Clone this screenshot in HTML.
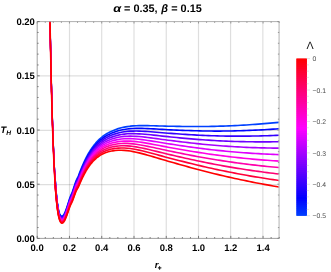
<!DOCTYPE html>
<html><head><meta charset="utf-8"><title>plot</title>
<style>html,body{margin:0;padding:0;background:#fff;}svg{display:block;}text{font-family:"Liberation Sans",sans-serif;}</style></head><body>
<svg width="331" height="272" viewBox="0 0 331 272">
<rect width="331" height="272" fill="#fff"/>
<defs><clipPath id="c"><rect x="37.2" y="21.6" width="242.0" height="216.8"/></clipPath>
<linearGradient id="g" x1="0" y1="0" x2="0" y2="1"><stop offset="0.00" stop-color="#ff0000"/><stop offset="0.10" stop-color="#ff0039"/><stop offset="0.20" stop-color="#ff0073"/><stop offset="0.30" stop-color="#ff00ac"/><stop offset="0.40" stop-color="#ff00e6"/><stop offset="0.50" stop-color="#df00ff"/><stop offset="0.60" stop-color="#a600ff"/><stop offset="0.70" stop-color="#6c00ff"/><stop offset="0.80" stop-color="#3300ff"/><stop offset="0.90" stop-color="#0006ff"/><stop offset="1.00" stop-color="#0040ff"/></linearGradient></defs>
<path d="M69.50,21.6 V238.4 M101.70,21.6 V238.4 M134.00,21.6 V238.4 M166.25,21.6 V238.4 M198.50,21.6 V238.4 M230.55,21.6 V238.4 M262.85,21.6 V238.4" stroke="#000" stroke-opacity="0.13" stroke-width="1.2" fill="none"/>
<path d="M37.2,184.60 H279.2 M37.2,130.40 H279.2 M37.2,75.80 H279.2" stroke="#000" stroke-opacity="0.13" stroke-width="1.2" fill="none"/>
<g clip-path="url(#c)" fill="none" stroke-width="1.62" stroke-linejoin="round">
<path d="M49.86,9.56 L49.89,10.76 L49.91,11.95 L49.93,13.14 L49.95,14.33 L49.97,15.52 L49.99,16.71 L50.01,17.90 L50.03,19.09 L50.05,20.28 L50.08,21.47 L50.10,22.67 L50.12,23.86 L50.14,25.05 L50.16,26.24 L50.19,27.43 L50.21,28.62 L50.23,29.81 L50.25,31.00 L50.28,32.19 L50.30,33.38 L50.32,34.57 L50.35,35.76 L50.37,36.95 L50.39,38.14 L50.42,39.33 L50.44,40.52 L50.46,41.71 L50.49,42.90 L50.51,44.09 L50.54,45.28 L50.56,46.47 L50.59,47.66 L50.61,48.85 L50.63,50.04 L50.66,51.23 L50.68,52.42 L50.71,53.61 L50.74,54.80 L50.76,55.98 L50.79,57.17 L50.81,58.36 L50.84,59.55 L50.87,60.74 L50.89,61.93 L50.92,63.12 L50.95,64.31 L50.97,65.50 L51.00,66.68 L51.03,67.87 L51.05,69.06 L51.08,70.25 L51.11,71.44 L51.14,72.62 L51.17,73.81 L51.19,75.00 L51.22,76.19 L51.25,77.38 L51.28,78.56 L51.31,79.75 L51.34,80.94 L51.37,82.13 L51.40,83.31 L51.43,84.50 L51.46,85.69 L51.49,86.87 L51.52,88.06 L51.55,89.25 L51.58,90.44 L51.61,91.62 L51.65,92.81 L51.68,93.99 L51.71,95.18 L51.74,96.37 L51.78,97.55 L51.81,98.74 L51.84,99.92 L51.88,101.11 L51.91,102.30 L51.94,103.48 L51.98,104.67 L52.01,105.85 L52.05,107.04 L52.08,108.22 L52.12,109.41 L52.15,110.59 L52.19,111.77 L52.23,112.96 L52.26,114.14 L52.30,115.33 L52.34,116.51 L52.38,117.69 L52.41,118.88 L52.45,120.06 L52.49,121.24 L52.53,122.43 L52.57,123.61 L52.61,124.79 L52.65,125.97 L52.69,127.16 L52.74,128.34 L52.78,129.52 L52.82,130.70 L52.86,131.88 L52.91,133.06 L52.95,134.25 L52.99,135.43 L53.04,136.61 L53.08,137.79 L53.13,138.97 L53.18,140.15 L53.22,141.33 L53.27,142.50 L53.32,143.68 L53.37,144.86 L53.42,146.04 L53.46,147.22 L53.52,148.40 L53.57,149.57 L53.62,150.75 L53.67,151.93 L53.72,153.10 L53.78,154.28 L53.83,155.46 L53.89,156.63 L53.94,157.81 L54.00,158.98 L54.06,160.15 L54.12,161.33 L54.18,162.50 L54.24,163.67 L54.30,164.84 L54.36,166.02 L54.43,167.19 L54.49,168.36 L54.56,169.53 L54.62,170.70 L54.69,171.86 L54.76,173.03 L54.83,174.20 L54.91,175.37 L54.98,176.53 L55.05,177.70" stroke="#0040ff" stroke-width="1.3"/>
<path d="M55.05,177.70 L55.13,178.86 L55.21,180.02 L55.29,181.18 L55.37,182.34 L55.46,183.50 L55.54,184.66 L55.63,185.82 L55.72,186.98 L55.81,188.13 L55.91,189.28 L56.01,190.43 L56.05,190.87 L56.08,191.30 L56.12,191.74 L56.16,192.17 L56.20,192.60 L56.24,193.04 L56.28,193.47 L56.32,193.90 L56.37,194.34 L56.41,194.77 L56.45,195.20 L56.49,195.63 L56.54,196.06 L56.58,196.50 L56.63,196.93 L56.67,197.36 L56.72,197.79 L56.77,198.22 L56.81,198.64 L56.86,199.07 L56.91,199.50 L56.96,199.93 L57.01,200.35 L57.06,200.78 L57.12,201.20 L57.17,201.63 L57.22,202.05 L57.28,202.48 L57.33,202.90 L57.39,203.32 L57.45,203.74 L57.51,204.16 L57.57,204.58 L57.63,205.00 L57.70,205.41 L57.76,205.83 L57.83,206.24 L57.90,206.65 L57.97,207.06 L58.04,207.47 L58.11,207.87 L58.19,208.28 L58.26,208.68 L58.34,209.08 L58.42,209.48 L58.51,209.87 L58.60,210.26 L58.69,210.65 L58.78,211.03 L58.88,211.41 L58.98,211.79 L59.09,212.16 L59.20,212.52 L59.31,212.88 L59.43,213.22 L59.56,213.57 L59.70,213.90 L59.85,214.22 L60.00,214.53 L60.17,214.82 L60.36,215.10 L60.57,215.36 L60.80,215.60 L61.06,215.79 L61.37,215.93 L61.73,215.99 L62.16,215.92 L62.61,215.69 L63.02,215.36 L63.38,214.97 L63.71,214.55 L64.00,214.10 L64.26,213.65 L64.51,213.18 L64.75,212.70 L64.98,212.22 L65.19,211.73 L65.40,211.24 L65.60,210.74 L65.80,210.24 L65.99,209.74 L66.17,209.24 L66.35,208.74 L66.53,208.23 L66.71,207.73 L66.88,207.22 L67.05,206.71 L67.22,206.19 L67.39,205.68 L67.55,205.17 L67.71,204.67 L67.87,204.16 L68.03,203.65 L68.19,203.15 L68.35,202.65 L68.50,202.15 L68.66,201.66 L68.81,201.17 L68.96,200.68 L69.12,200.20 L69.27,199.72 L69.42,199.24 L69.57,198.77 L69.72,198.33 L69.87,197.90 L70.02,197.48 L70.17,197.09 L70.32,196.71 L70.47,196.34 L70.61,195.98 L70.76,195.63 L70.91,195.28 L71.06,194.94 L71.20,194.61 L71.35,194.27 L71.50,193.93 L71.65,193.59 L71.80,193.24 L71.94,192.89 L72.09,192.53 L72.24,192.16 L72.39,191.77 L72.54,191.38 L72.68,190.96 L72.83,190.53 L72.98,190.08 L73.13,189.62 L73.28,189.15 L73.43,188.69 L73.58,188.23 L73.73,187.76 L73.89,187.30 L74.04,186.83 L74.19,186.37 L74.34,185.91 L74.50,185.44 L74.65,184.98 L75.06,183.75 L75.48,182.52 L75.90,181.36 L76.32,180.32 L76.75,179.36 L77.19,178.45 L77.63,177.54 L78.08,176.59 L78.54,175.56 L79.00,174.39 L79.47,173.13 L79.95,171.88 L80.44,170.63 L80.94,169.39 L81.45,168.14 L81.96,166.89 L82.49,165.65 L83.04,164.41 L83.59,163.17 L84.16,161.91 L84.74,160.65 L85.33,159.39 L85.94,158.13 L86.57,156.88 L87.22,155.64 L87.88,154.43 L88.56,153.24 L89.26,152.06 L89.98,150.90 L90.72,149.75 L91.49,148.61 L92.27,147.48 L93.09,146.37 L93.92,145.28 L94.78,144.21 L95.67,143.15 L96.58,142.12 L97.52,141.11 L98.49,140.12 L99.48,139.17 L100.49,138.25 L101.53,137.37 L102.59,136.52 L103.67,135.71 L104.78,134.93 L105.89,134.20 L107.03,133.51 L108.18,132.85 L109.34,132.24 L110.51,131.67 L111.69,131.13 L112.88,130.63 L114.07,130.14 L115.26,129.67 L118.26,128.63 L121.26,127.79 L124.25,127.11 L127.24,126.58 L130.21,126.18 L133.17,125.93 L136.12,125.77 L139.06,125.65 L141.98,125.60 L144.90,125.61 L147.81,125.64 L150.71,125.70 L153.61,125.78 L156.50,125.86 L159.39,125.96 L162.27,126.06 L165.16,126.13 L168.04,126.19 L170.92,126.25 L173.81,126.30 L176.69,126.36 L179.58,126.40 L182.46,126.45 L185.35,126.48 L188.24,126.51 L191.13,126.53 L194.03,126.54 L196.93,126.54 L199.82,126.53 L202.73,126.51 L205.63,126.48 L208.54,126.44 L211.45,126.39 L214.36,126.33 L217.27,126.26 L220.19,126.18 L223.11,126.08 L226.03,125.98 L228.95,125.86 L231.88,125.74 L234.81,125.60 L237.74,125.45 L240.67,125.29 L243.61,125.12 L246.54,124.94 L249.48,124.75 L252.42,124.55 L255.37,124.34 L258.31,124.12 L261.26,123.89 L264.21,123.65 L267.16,123.40 L270.11,123.15 L273.06,122.88 L276.02,122.60 L278.97,122.32 L281.93,122.03 L284.89,121.72" stroke="#0040ff"/>
<path d="M49.86,9.90 L49.89,11.09 L49.91,12.29 L49.93,13.48 L49.95,14.67 L49.97,15.86 L49.99,17.05 L50.01,18.24 L50.03,19.44 L50.05,20.63 L50.08,21.82 L50.10,23.01 L50.12,24.20 L50.14,25.39 L50.16,26.58 L50.19,27.77 L50.21,28.97 L50.23,30.16 L50.25,31.35 L50.28,32.54 L50.30,33.73 L50.32,34.92 L50.35,36.11 L50.37,37.30 L50.39,38.49 L50.42,39.68 L50.44,40.87 L50.46,42.07 L50.49,43.26 L50.51,44.45 L50.54,45.64 L50.56,46.83 L50.59,48.02 L50.61,49.21 L50.63,50.40 L50.66,51.59 L50.68,52.78 L50.71,53.97 L50.74,55.16 L50.76,56.35 L50.79,57.54 L50.81,58.73 L50.84,59.92 L50.87,61.11 L50.89,62.30 L50.92,63.48 L50.95,64.67 L50.97,65.86 L51.00,67.05 L51.03,68.24 L51.05,69.43 L51.08,70.62 L51.11,71.81 L51.14,73.00 L51.17,74.19 L51.19,75.37 L51.22,76.56 L51.25,77.75 L51.28,78.94 L51.31,80.13 L51.34,81.32 L51.37,82.51 L51.40,83.69 L51.43,84.88 L51.46,86.07 L51.49,87.26 L51.52,88.44 L51.55,89.63 L51.58,90.82 L51.61,92.01 L51.65,93.19 L51.68,94.38 L51.71,95.57 L51.74,96.76 L51.78,97.94 L51.81,99.13 L51.84,100.32 L51.88,101.50 L51.91,102.69 L51.94,103.87 L51.98,105.06 L52.01,106.25 L52.05,107.43 L52.08,108.62 L52.12,109.80 L52.15,110.99 L52.19,112.18 L52.23,113.36 L52.26,114.55 L52.30,115.73 L52.34,116.92 L52.38,118.10 L52.41,119.28 L52.45,120.47 L52.49,121.65 L52.53,122.84 L52.57,124.02 L52.61,125.20 L52.65,126.39 L52.69,127.57 L52.74,128.75 L52.78,129.94 L52.82,131.12 L52.86,132.30 L52.91,133.48 L52.95,134.67 L52.99,135.85 L53.04,137.03 L53.08,138.21 L53.13,139.39 L53.18,140.57 L53.22,141.75 L53.27,142.93 L53.32,144.11 L53.37,145.29 L53.42,146.47 L53.46,147.65 L53.52,148.83 L53.57,150.01 L53.62,151.19 L53.67,152.37 L53.72,153.55 L53.78,154.72 L53.83,155.90 L53.89,157.08 L53.94,158.25 L54.00,159.43 L54.06,160.60 L54.12,161.78 L54.18,162.95 L54.24,164.13 L54.30,165.30 L54.36,166.48 L54.43,167.65 L54.49,168.82 L54.56,169.99 L54.62,171.16 L54.69,172.33 L54.76,173.50 L54.83,174.67 L54.91,175.84 L54.98,177.01 L55.05,178.17" stroke="#0006ff" stroke-width="1.3"/>
<path d="M55.05,178.17 L55.13,179.34 L55.21,180.50 L55.29,181.67 L55.37,182.83 L55.46,183.99 L55.54,185.15 L55.63,186.31 L55.72,187.47 L55.81,188.63 L55.91,189.78 L56.01,190.94 L56.05,191.37 L56.08,191.81 L56.12,192.24 L56.16,192.68 L56.20,193.11 L56.24,193.55 L56.28,193.98 L56.32,194.42 L56.37,194.85 L56.41,195.29 L56.45,195.72 L56.49,196.15 L56.54,196.58 L56.58,197.02 L56.63,197.45 L56.67,197.88 L56.72,198.31 L56.77,198.74 L56.81,199.17 L56.86,199.60 L56.91,200.03 L56.96,200.46 L57.01,200.89 L57.06,201.32 L57.12,201.74 L57.17,202.17 L57.22,202.59 L57.28,203.02 L57.33,203.44 L57.39,203.87 L57.45,204.29 L57.51,204.71 L57.57,205.13 L57.63,205.55 L57.70,205.97 L57.76,206.39 L57.83,206.80 L57.90,207.21 L57.97,207.63 L58.04,208.04 L58.11,208.45 L58.19,208.85 L58.26,209.26 L58.34,209.66 L58.42,210.06 L58.51,210.46 L58.60,210.85 L58.69,211.24 L58.78,211.63 L58.88,212.01 L58.98,212.39 L59.09,212.77 L59.20,213.14 L59.31,213.50 L59.43,213.85 L59.56,214.20 L59.70,214.54 L59.85,214.86 L60.00,215.18 L60.17,215.48 L60.36,215.77 L60.57,216.04 L60.80,216.28 L61.06,216.49 L61.37,216.64 L61.73,216.71 L62.16,216.64 L62.61,216.43 L63.02,216.10 L63.38,215.71 L63.71,215.29 L64.00,214.86 L64.26,214.40 L64.51,213.94 L64.75,213.46 L64.98,212.98 L65.19,212.50 L65.40,212.01 L65.60,211.51 L65.80,211.02 L65.99,210.52 L66.17,210.03 L66.35,209.53 L66.53,209.02 L66.71,208.52 L66.88,208.01 L67.05,207.51 L67.22,207.00 L67.39,206.49 L67.55,205.99 L67.71,205.48 L67.87,204.98 L68.03,204.48 L68.19,203.98 L68.35,203.48 L68.50,202.99 L68.66,202.50 L68.81,202.01 L68.96,201.53 L69.12,201.05 L69.27,200.58 L69.42,200.10 L69.57,199.64 L69.72,199.19 L69.87,198.77 L70.02,198.36 L70.17,197.97 L70.32,197.59 L70.47,197.23 L70.61,196.87 L70.76,196.52 L70.91,196.18 L71.06,195.85 L71.20,195.51 L71.35,195.18 L71.50,194.85 L71.65,194.51 L71.80,194.17 L71.94,193.82 L72.09,193.46 L72.24,193.09 L72.39,192.72 L72.54,192.32 L72.68,191.91 L72.83,191.48 L72.98,191.04 L73.13,190.58 L73.28,190.12 L73.43,189.66 L73.58,189.20 L73.73,188.74 L73.89,188.28 L74.04,187.82 L74.19,187.36 L74.34,186.90 L74.50,186.44 L74.65,185.98 L75.06,184.76 L75.48,183.54 L75.90,182.39 L76.32,181.36 L76.75,180.42 L77.19,179.52 L77.63,178.62 L78.08,177.69 L78.54,176.66 L79.00,175.50 L79.47,174.26 L79.95,173.03 L80.44,171.79 L80.94,170.55 L81.45,169.32 L81.96,168.09 L82.49,166.86 L83.04,165.64 L83.59,164.41 L84.16,163.16 L84.74,161.92 L85.33,160.67 L85.94,159.43 L86.57,158.20 L87.22,156.98 L87.88,155.78 L88.56,154.61 L89.26,153.45 L89.98,152.31 L90.72,151.18 L91.49,150.06 L92.27,148.95 L93.09,147.86 L93.92,146.79 L94.78,145.74 L95.67,144.71 L96.58,143.70 L97.52,142.72 L98.49,141.76 L99.48,140.84 L100.49,139.94 L101.53,139.09 L102.59,138.27 L103.67,137.48 L104.78,136.74 L105.89,136.04 L107.03,135.37 L108.18,134.75 L109.34,134.17 L110.51,133.63 L111.69,133.12 L112.88,132.65 L114.07,132.19 L115.26,131.76 L118.26,130.80 L121.26,130.03 L124.25,129.44 L127.24,128.98 L130.21,128.66 L133.17,128.50 L136.12,128.41 L139.06,128.37 L141.98,128.40 L144.90,128.49 L147.81,128.60 L150.71,128.74 L153.61,128.89 L156.50,129.05 L159.39,129.23 L162.27,129.40 L165.16,129.55 L168.04,129.69 L170.92,129.82 L173.81,129.96 L176.69,130.08 L179.58,130.21 L182.46,130.33 L185.35,130.44 L188.24,130.55 L191.13,130.64 L194.03,130.73 L196.93,130.81 L199.82,130.88 L202.73,130.94 L205.63,130.99 L208.54,131.02 L211.45,131.05 L214.36,131.07 L217.27,131.07 L220.19,131.07 L223.11,131.05 L226.03,131.03 L228.95,130.99 L231.88,130.94 L234.81,130.88 L237.74,130.81 L240.67,130.73 L243.61,130.64 L246.54,130.54 L249.48,130.43 L252.42,130.31 L255.37,130.17 L258.31,130.03 L261.26,129.88 L264.21,129.72 L267.16,129.55 L270.11,129.37 L273.06,129.18 L276.02,128.99 L278.97,128.78 L281.93,128.57 L284.89,128.35" stroke="#0006ff"/>
<path d="M49.86,10.24 L49.89,11.43 L49.91,12.63 L49.93,13.82 L49.95,15.01 L49.97,16.20 L49.99,17.39 L50.01,18.59 L50.03,19.78 L50.05,20.97 L50.08,22.16 L50.10,23.35 L50.12,24.55 L50.14,25.74 L50.16,26.93 L50.19,28.12 L50.21,29.31 L50.23,30.51 L50.25,31.70 L50.28,32.89 L50.30,34.08 L50.32,35.27 L50.35,36.46 L50.37,37.65 L50.39,38.85 L50.42,40.04 L50.44,41.23 L50.46,42.42 L50.49,43.61 L50.51,44.80 L50.54,45.99 L50.56,47.18 L50.59,48.37 L50.61,49.57 L50.63,50.76 L50.66,51.95 L50.68,53.14 L50.71,54.33 L50.74,55.52 L50.76,56.71 L50.79,57.90 L50.81,59.09 L50.84,60.28 L50.87,61.47 L50.89,62.66 L50.92,63.85 L50.95,65.04 L50.97,66.23 L51.00,67.42 L51.03,68.61 L51.05,69.80 L51.08,70.99 L51.11,72.18 L51.14,73.37 L51.17,74.56 L51.19,75.75 L51.22,76.94 L51.25,78.13 L51.28,79.32 L51.31,80.51 L51.34,81.70 L51.37,82.88 L51.40,84.07 L51.43,85.26 L51.46,86.45 L51.49,87.64 L51.52,88.83 L51.55,90.02 L51.58,91.20 L51.61,92.39 L51.65,93.58 L51.68,94.77 L51.71,95.96 L51.74,97.14 L51.78,98.33 L51.81,99.52 L51.84,100.71 L51.88,101.89 L51.91,103.08 L51.94,104.27 L51.98,105.46 L52.01,106.64 L52.05,107.83 L52.08,109.02 L52.12,110.20 L52.15,111.39 L52.19,112.58 L52.23,113.76 L52.26,114.95 L52.30,116.13 L52.34,117.32 L52.38,118.51 L52.41,119.69 L52.45,120.88 L52.49,122.06 L52.53,123.25 L52.57,124.43 L52.61,125.62 L52.65,126.80 L52.69,127.99 L52.74,129.17 L52.78,130.35 L52.82,131.54 L52.86,132.72 L52.91,133.90 L52.95,135.09 L52.99,136.27 L53.04,137.45 L53.08,138.64 L53.13,139.82 L53.18,141.00 L53.22,142.18 L53.27,143.36 L53.32,144.55 L53.37,145.73 L53.42,146.91 L53.46,148.09 L53.52,149.27 L53.57,150.45 L53.62,151.63 L53.67,152.81 L53.72,153.99 L53.78,155.17 L53.83,156.34 L53.89,157.52 L53.94,158.70 L54.00,159.88 L54.06,161.06 L54.12,162.23 L54.18,163.41 L54.24,164.58 L54.30,165.76 L54.36,166.93 L54.43,168.11 L54.49,169.28 L54.56,170.46 L54.62,171.63 L54.69,172.80 L54.76,173.97 L54.83,175.14 L54.91,176.31 L54.98,177.48 L55.05,178.65" stroke="#3300ff" stroke-width="1.3"/>
<path d="M55.05,178.65 L55.13,179.82 L55.21,180.99 L55.29,182.15 L55.37,183.32 L55.46,184.48 L55.54,185.65 L55.63,186.81 L55.72,187.97 L55.81,189.13 L55.91,190.28 L56.01,191.44 L56.05,191.88 L56.08,192.31 L56.12,192.75 L56.16,193.19 L56.20,193.62 L56.24,194.06 L56.28,194.50 L56.32,194.93 L56.37,195.37 L56.41,195.80 L56.45,196.24 L56.49,196.67 L56.54,197.10 L56.58,197.54 L56.63,197.97 L56.67,198.40 L56.72,198.84 L56.77,199.27 L56.81,199.70 L56.86,200.13 L56.91,200.56 L56.96,200.99 L57.01,201.42 L57.06,201.85 L57.12,202.28 L57.17,202.71 L57.22,203.14 L57.28,203.56 L57.33,203.99 L57.39,204.41 L57.45,204.84 L57.51,205.26 L57.57,205.68 L57.63,206.10 L57.70,206.53 L57.76,206.94 L57.83,207.36 L57.90,207.78 L57.97,208.19 L58.04,208.61 L58.11,209.02 L58.19,209.43 L58.26,209.84 L58.34,210.24 L58.42,210.65 L58.51,211.05 L58.60,211.44 L58.69,211.84 L58.78,212.23 L58.88,212.62 L58.98,213.00 L59.09,213.38 L59.20,213.75 L59.31,214.12 L59.43,214.48 L59.56,214.83 L59.70,215.17 L59.85,215.51 L60.00,215.83 L60.17,216.14 L60.36,216.43 L60.57,216.71 L60.80,216.97 L61.06,217.18 L61.37,217.34 L61.73,217.42 L62.16,217.37 L62.61,217.16 L63.02,216.84 L63.38,216.46 L63.71,216.04 L64.00,215.61 L64.26,215.16 L64.51,214.69 L64.75,214.22 L64.98,213.74 L65.19,213.26 L65.40,212.77 L65.60,212.28 L65.80,211.79 L65.99,211.30 L66.17,210.81 L66.35,210.31 L66.53,209.81 L66.71,209.31 L66.88,208.81 L67.05,208.31 L67.22,207.80 L67.39,207.30 L67.55,206.80 L67.71,206.30 L67.87,205.80 L68.03,205.30 L68.19,204.81 L68.35,204.32 L68.50,203.83 L68.66,203.34 L68.81,202.86 L68.96,202.38 L69.12,201.90 L69.27,201.43 L69.42,200.97 L69.57,200.51 L69.72,200.06 L69.87,199.64 L70.02,199.24 L70.17,198.85 L70.32,198.48 L70.47,198.12 L70.61,197.77 L70.76,197.42 L70.91,197.09 L71.06,196.75 L71.20,196.42 L71.35,196.09 L71.50,195.76 L71.65,195.43 L71.80,195.09 L71.94,194.75 L72.09,194.40 L72.24,194.03 L72.39,193.66 L72.54,193.27 L72.68,192.86 L72.83,192.44 L72.98,191.99 L73.13,191.54 L73.28,191.08 L73.43,190.63 L73.58,190.17 L73.73,189.72 L73.89,189.26 L74.04,188.80 L74.19,188.35 L74.34,187.89 L74.50,187.44 L74.65,186.98 L75.06,185.77 L75.48,184.57 L75.90,183.43 L76.32,182.41 L76.75,181.48 L77.19,180.59 L77.63,179.71 L78.08,178.78 L78.54,177.77 L79.00,176.62 L79.47,175.39 L79.95,174.17 L80.44,172.95 L80.94,171.72 L81.45,170.50 L81.96,169.29 L82.49,168.07 L83.04,166.86 L83.59,165.65 L84.16,164.42 L84.74,163.19 L85.33,161.96 L85.94,160.73 L86.57,159.52 L87.22,158.32 L87.88,157.14 L88.56,155.98 L89.26,154.85 L89.98,153.72 L90.72,152.61 L91.49,151.51 L92.27,150.43 L93.09,149.36 L93.92,148.31 L94.78,147.28 L95.67,146.28 L96.58,145.29 L97.52,144.33 L98.49,143.40 L99.48,142.50 L100.49,141.64 L101.53,140.81 L102.59,140.01 L103.67,139.26 L104.78,138.55 L105.89,137.87 L107.03,137.24 L108.18,136.65 L109.34,136.10 L110.51,135.59 L111.69,135.11 L112.88,134.67 L114.07,134.25 L115.26,133.85 L118.26,132.96 L121.26,132.28 L124.25,131.77 L127.24,131.39 L130.21,131.15 L133.17,131.07 L136.12,131.06 L139.06,131.10 L141.98,131.21 L144.90,131.37 L147.81,131.56 L150.71,131.77 L153.61,132.00 L156.50,132.24 L159.39,132.50 L162.27,132.75 L165.16,132.98 L168.04,133.19 L170.92,133.40 L173.81,133.61 L176.69,133.81 L179.58,134.02 L182.46,134.21 L185.35,134.40 L188.24,134.58 L191.13,134.76 L194.03,134.92 L196.93,135.08 L199.82,135.23 L202.73,135.36 L205.63,135.49 L208.54,135.60 L211.45,135.71 L214.36,135.80 L217.27,135.89 L220.19,135.96 L223.11,136.02 L226.03,136.07 L228.95,136.11 L231.88,136.14 L234.81,136.16 L237.74,136.17 L240.67,136.17 L243.61,136.16 L246.54,136.13 L249.48,136.10 L252.42,136.06 L255.37,136.01 L258.31,135.94 L261.26,135.87 L264.21,135.79 L267.16,135.70 L270.11,135.60 L273.06,135.49 L276.02,135.37 L278.97,135.25 L281.93,135.11 L284.89,134.97" stroke="#3300ff"/>
<path d="M49.86,10.58 L49.89,11.77 L49.91,12.97 L49.93,14.16 L49.95,15.35 L49.97,16.54 L49.99,17.74 L50.01,18.93 L50.03,20.12 L50.05,21.31 L50.08,22.51 L50.10,23.70 L50.12,24.89 L50.14,26.08 L50.16,27.28 L50.19,28.47 L50.21,29.66 L50.23,30.85 L50.25,32.05 L50.28,33.24 L50.30,34.43 L50.32,35.62 L50.35,36.81 L50.37,38.01 L50.39,39.20 L50.42,40.39 L50.44,41.58 L50.46,42.77 L50.49,43.97 L50.51,45.16 L50.54,46.35 L50.56,47.54 L50.59,48.73 L50.61,49.92 L50.63,51.12 L50.66,52.31 L50.68,53.50 L50.71,54.69 L50.74,55.88 L50.76,57.07 L50.79,58.26 L50.81,59.45 L50.84,60.65 L50.87,61.84 L50.89,63.03 L50.92,64.22 L50.95,65.41 L50.97,66.60 L51.00,67.79 L51.03,68.98 L51.05,70.17 L51.08,71.36 L51.11,72.55 L51.14,73.74 L51.17,74.93 L51.19,76.12 L51.22,77.31 L51.25,78.50 L51.28,79.69 L51.31,80.88 L51.34,82.07 L51.37,83.26 L51.40,84.45 L51.43,85.64 L51.46,86.83 L51.49,88.02 L51.52,89.21 L51.55,90.40 L51.58,91.59 L51.61,92.78 L51.65,93.97 L51.68,95.16 L51.71,96.34 L51.74,97.53 L51.78,98.72 L51.81,99.91 L51.84,101.10 L51.88,102.29 L51.91,103.48 L51.94,104.66 L51.98,105.85 L52.01,107.04 L52.05,108.23 L52.08,109.41 L52.12,110.60 L52.15,111.79 L52.19,112.98 L52.23,114.16 L52.26,115.35 L52.30,116.54 L52.34,117.72 L52.38,118.91 L52.41,120.10 L52.45,121.28 L52.49,122.47 L52.53,123.66 L52.57,124.84 L52.61,126.03 L52.65,127.21 L52.69,128.40 L52.74,129.58 L52.78,130.77 L52.82,131.95 L52.86,133.14 L52.91,134.32 L52.95,135.51 L52.99,136.69 L53.04,137.88 L53.08,139.06 L53.13,140.24 L53.18,141.43 L53.22,142.61 L53.27,143.79 L53.32,144.98 L53.37,146.16 L53.42,147.34 L53.46,148.52 L53.52,149.70 L53.57,150.89 L53.62,152.07 L53.67,153.25 L53.72,154.43 L53.78,155.61 L53.83,156.79 L53.89,157.97 L53.94,159.15 L54.00,160.33 L54.06,161.51 L54.12,162.68 L54.18,163.86 L54.24,165.04 L54.30,166.22 L54.36,167.39 L54.43,168.57 L54.49,169.74 L54.56,170.92 L54.62,172.09 L54.69,173.27 L54.76,174.44 L54.83,175.61 L54.91,176.79 L54.98,177.96 L55.05,179.13" stroke="#6c00ff" stroke-width="1.3"/>
<path d="M55.05,179.13 L55.13,180.30 L55.21,181.47 L55.29,182.64 L55.37,183.80 L55.46,184.97 L55.54,186.14 L55.63,187.30 L55.72,188.46 L55.81,189.63 L55.91,190.79 L56.01,191.94 L56.05,192.38 L56.08,192.82 L56.12,193.26 L56.16,193.70 L56.20,194.13 L56.24,194.57 L56.28,195.01 L56.32,195.44 L56.37,195.88 L56.41,196.32 L56.45,196.75 L56.49,197.19 L56.54,197.62 L56.58,198.06 L56.63,198.49 L56.67,198.93 L56.72,199.36 L56.77,199.80 L56.81,200.23 L56.86,200.66 L56.91,201.09 L56.96,201.53 L57.01,201.96 L57.06,202.39 L57.12,202.82 L57.17,203.25 L57.22,203.68 L57.28,204.11 L57.33,204.53 L57.39,204.96 L57.45,205.39 L57.51,205.81 L57.57,206.24 L57.63,206.66 L57.70,207.08 L57.76,207.50 L57.83,207.92 L57.90,208.34 L57.97,208.76 L58.04,209.18 L58.11,209.59 L58.19,210.00 L58.26,210.42 L58.34,210.82 L58.42,211.23 L58.51,211.63 L58.60,212.04 L58.69,212.43 L58.78,212.83 L58.88,213.22 L58.98,213.61 L59.09,213.99 L59.20,214.37 L59.31,214.74 L59.43,215.10 L59.56,215.46 L59.70,215.81 L59.85,216.15 L60.00,216.48 L60.17,216.80 L60.36,217.10 L60.57,217.39 L60.80,217.65 L61.06,217.88 L61.37,218.05 L61.73,218.14 L62.16,218.10 L62.61,217.90 L63.02,217.58 L63.38,217.20 L63.71,216.79 L64.00,216.36 L64.26,215.91 L64.51,215.45 L64.75,214.98 L64.98,214.51 L65.19,214.03 L65.40,213.54 L65.60,213.05 L65.80,212.57 L65.99,212.08 L66.17,211.59 L66.35,211.10 L66.53,210.60 L66.71,210.11 L66.88,209.61 L67.05,209.11 L67.22,208.61 L67.39,208.11 L67.55,207.61 L67.71,207.12 L67.87,206.62 L68.03,206.13 L68.19,205.64 L68.35,205.15 L68.50,204.66 L68.66,204.18 L68.81,203.70 L68.96,203.23 L69.12,202.76 L69.27,202.29 L69.42,201.83 L69.57,201.37 L69.72,200.93 L69.87,200.52 L70.02,200.12 L70.17,199.73 L70.32,199.36 L70.47,199.01 L70.61,198.66 L70.76,198.32 L70.91,197.99 L71.06,197.66 L71.20,197.33 L71.35,197.01 L71.50,196.68 L71.65,196.35 L71.80,196.02 L71.94,195.68 L72.09,195.33 L72.24,194.97 L72.39,194.60 L72.54,194.21 L72.68,193.81 L72.83,193.39 L72.98,192.95 L73.13,192.50 L73.28,192.05 L73.43,191.59 L73.58,191.14 L73.73,190.69 L73.89,190.24 L74.04,189.79 L74.19,189.34 L74.34,188.89 L74.50,188.44 L74.65,187.98 L75.06,186.79 L75.48,185.59 L75.90,184.46 L76.32,183.46 L76.75,182.54 L77.19,181.66 L77.63,180.79 L78.08,179.87 L78.54,178.87 L79.00,177.74 L79.47,176.52 L79.95,175.31 L80.44,174.10 L80.94,172.89 L81.45,171.69 L81.96,170.48 L82.49,169.28 L83.04,168.09 L83.59,166.89 L84.16,165.68 L84.74,164.46 L85.33,163.25 L85.94,162.04 L86.57,160.84 L87.22,159.65 L87.88,158.49 L88.56,157.35 L89.26,156.24 L89.98,155.13 L90.72,154.04 L91.49,152.96 L92.27,151.90 L93.09,150.85 L93.92,149.83 L94.78,148.82 L95.67,147.84 L96.58,146.88 L97.52,145.94 L98.49,145.04 L99.48,144.17 L100.49,143.33 L101.53,142.53 L102.59,141.76 L103.67,141.04 L104.78,140.35 L105.89,139.71 L107.03,139.11 L108.18,138.55 L109.34,138.03 L110.51,137.55 L111.69,137.11 L112.88,136.70 L114.07,136.30 L115.26,135.93 L118.26,135.13 L121.26,134.53 L124.25,134.09 L127.24,133.80 L130.21,133.64 L133.17,133.63 L136.12,133.70 L139.06,133.82 L141.98,134.01 L144.90,134.25 L147.81,134.51 L150.71,134.81 L153.61,135.11 L156.50,135.43 L159.39,135.76 L162.27,136.09 L165.16,136.40 L168.04,136.68 L170.92,136.97 L173.81,137.26 L176.69,137.54 L179.58,137.82 L182.46,138.10 L185.35,138.36 L188.24,138.62 L191.13,138.87 L194.03,139.12 L196.93,139.35 L199.82,139.57 L202.73,139.79 L205.63,139.99 L208.54,140.18 L211.45,140.37 L214.36,140.54 L217.27,140.70 L220.19,140.85 L223.11,140.99 L226.03,141.12 L228.95,141.24 L231.88,141.35 L234.81,141.45 L237.74,141.53 L240.67,141.61 L243.61,141.68 L246.54,141.73 L249.48,141.78 L252.42,141.81 L255.37,141.84 L258.31,141.86 L261.26,141.86 L264.21,141.86 L267.16,141.85 L270.11,141.83 L273.06,141.80 L276.02,141.76 L278.97,141.71 L281.93,141.65 L284.89,141.59" stroke="#6c00ff"/>
<path d="M49.86,10.92 L49.89,12.11 L49.91,13.30 L49.93,14.50 L49.95,15.69 L49.97,16.89 L49.99,18.08 L50.01,19.27 L50.03,20.46 L50.05,21.66 L50.08,22.85 L50.10,24.04 L50.12,25.24 L50.14,26.43 L50.16,27.62 L50.19,28.82 L50.21,30.01 L50.23,31.20 L50.25,32.40 L50.28,33.59 L50.30,34.78 L50.32,35.97 L50.35,37.17 L50.37,38.36 L50.39,39.55 L50.42,40.74 L50.44,41.94 L50.46,43.13 L50.49,44.32 L50.51,45.51 L50.54,46.71 L50.56,47.90 L50.59,49.09 L50.61,50.28 L50.63,51.47 L50.66,52.67 L50.68,53.86 L50.71,55.05 L50.74,56.24 L50.76,57.43 L50.79,58.63 L50.81,59.82 L50.84,61.01 L50.87,62.20 L50.89,63.39 L50.92,64.59 L50.95,65.78 L50.97,66.97 L51.00,68.16 L51.03,69.35 L51.05,70.54 L51.08,71.73 L51.11,72.92 L51.14,74.12 L51.17,75.31 L51.19,76.50 L51.22,77.69 L51.25,78.88 L51.28,80.07 L51.31,81.26 L51.34,82.45 L51.37,83.64 L51.40,84.83 L51.43,86.02 L51.46,87.21 L51.49,88.40 L51.52,89.59 L51.55,90.78 L51.58,91.97 L51.61,93.16 L51.65,94.35 L51.68,95.54 L51.71,96.73 L51.74,97.92 L51.78,99.11 L51.81,100.30 L51.84,101.49 L51.88,102.68 L51.91,103.87 L51.94,105.06 L51.98,106.25 L52.01,107.44 L52.05,108.62 L52.08,109.81 L52.12,111.00 L52.15,112.19 L52.19,113.38 L52.23,114.57 L52.26,115.75 L52.30,116.94 L52.34,118.13 L52.38,119.32 L52.41,120.50 L52.45,121.69 L52.49,122.88 L52.53,124.07 L52.57,125.25 L52.61,126.44 L52.65,127.63 L52.69,128.81 L52.74,130.00 L52.78,131.19 L52.82,132.37 L52.86,133.56 L52.91,134.74 L52.95,135.93 L52.99,137.11 L53.04,138.30 L53.08,139.49 L53.13,140.67 L53.18,141.85 L53.22,143.04 L53.27,144.22 L53.32,145.41 L53.37,146.59 L53.42,147.77 L53.46,148.96 L53.52,150.14 L53.57,151.32 L53.62,152.51 L53.67,153.69 L53.72,154.87 L53.78,156.05 L53.83,157.23 L53.89,158.42 L53.94,159.60 L54.00,160.78 L54.06,161.96 L54.12,163.14 L54.18,164.32 L54.24,165.50 L54.30,166.67 L54.36,167.85 L54.43,169.03 L54.49,170.21 L54.56,171.38 L54.62,172.56 L54.69,173.74 L54.76,174.91 L54.83,176.09 L54.91,177.26 L54.98,178.43 L55.05,179.61" stroke="#a600ff" stroke-width="1.3"/>
<path d="M55.05,179.61 L55.13,180.78 L55.21,181.95 L55.29,183.12 L55.37,184.29 L55.46,185.46 L55.54,186.63 L55.63,187.79 L55.72,188.96 L55.81,190.12 L55.91,191.29 L56.01,192.45 L56.05,192.89 L56.08,193.33 L56.12,193.77 L56.16,194.20 L56.20,194.64 L56.24,195.08 L56.28,195.52 L56.32,195.96 L56.37,196.40 L56.41,196.83 L56.45,197.27 L56.49,197.71 L56.54,198.14 L56.58,198.58 L56.63,199.02 L56.67,199.45 L56.72,199.89 L56.77,200.32 L56.81,200.76 L56.86,201.19 L56.91,201.62 L56.96,202.06 L57.01,202.49 L57.06,202.92 L57.12,203.36 L57.17,203.79 L57.22,204.22 L57.28,204.65 L57.33,205.08 L57.39,205.51 L57.45,205.94 L57.51,206.36 L57.57,206.79 L57.63,207.21 L57.70,207.64 L57.76,208.06 L57.83,208.49 L57.90,208.91 L57.97,209.33 L58.04,209.75 L58.11,210.16 L58.19,210.58 L58.26,210.99 L58.34,211.40 L58.42,211.81 L58.51,212.22 L58.60,212.63 L58.69,213.03 L58.78,213.43 L58.88,213.82 L58.98,214.21 L59.09,214.60 L59.20,214.98 L59.31,215.36 L59.43,215.73 L59.56,216.10 L59.70,216.45 L59.85,216.80 L60.00,217.13 L60.17,217.46 L60.36,217.77 L60.57,218.06 L60.80,218.33 L61.06,218.57 L61.37,218.75 L61.73,218.85 L62.16,218.82 L62.61,218.63 L63.02,218.32 L63.38,217.95 L63.71,217.54 L64.00,217.11 L64.26,216.66 L64.51,216.21 L64.75,215.74 L64.98,215.27 L65.19,214.79 L65.40,214.31 L65.60,213.83 L65.80,213.34 L65.99,212.86 L66.17,212.37 L66.35,211.88 L66.53,211.39 L66.71,210.90 L66.88,210.40 L67.05,209.91 L67.22,209.41 L67.39,208.92 L67.55,208.43 L67.71,207.93 L67.87,207.44 L68.03,206.95 L68.19,206.47 L68.35,205.98 L68.50,205.50 L68.66,205.02 L68.81,204.55 L68.96,204.08 L69.12,203.61 L69.27,203.15 L69.42,202.69 L69.57,202.24 L69.72,201.80 L69.87,201.39 L70.02,200.99 L70.17,200.61 L70.32,200.25 L70.47,199.90 L70.61,199.55 L70.76,199.22 L70.91,198.89 L71.06,198.56 L71.20,198.24 L71.35,197.92 L71.50,197.60 L71.65,197.27 L71.80,196.94 L71.94,196.61 L72.09,196.26 L72.24,195.90 L72.39,195.54 L72.54,195.16 L72.68,194.76 L72.83,194.34 L72.98,193.91 L73.13,193.46 L73.28,193.01 L73.43,192.56 L73.58,192.12 L73.73,191.67 L73.89,191.22 L74.04,190.77 L74.19,190.33 L74.34,189.88 L74.50,189.43 L74.65,188.99 L75.06,187.80 L75.48,186.61 L75.90,185.50 L76.32,184.50 L76.75,183.59 L77.19,182.73 L77.63,181.87 L78.08,180.96 L78.54,179.98 L79.00,178.86 L79.47,177.65 L79.95,176.46 L80.44,175.26 L80.94,174.06 L81.45,172.87 L81.96,171.68 L82.49,170.50 L83.04,169.31 L83.59,168.13 L84.16,166.93 L84.74,165.73 L85.33,164.53 L85.94,163.34 L86.57,162.16 L87.22,160.99 L87.88,159.85 L88.56,158.73 L89.26,157.63 L89.98,156.54 L90.72,155.47 L91.49,154.41 L92.27,153.37 L93.09,152.35 L93.92,151.34 L94.78,150.36 L95.67,149.40 L96.58,148.47 L97.52,147.56 L98.49,146.68 L99.48,145.83 L100.49,145.02 L101.53,144.25 L102.59,143.51 L103.67,142.81 L104.78,142.16 L105.89,141.54 L107.03,140.97 L108.18,140.44 L109.34,139.96 L110.51,139.51 L111.69,139.10 L112.88,138.72 L114.07,138.36 L115.26,138.02 L118.26,137.30 L121.26,136.77 L124.25,136.42 L127.24,136.20 L130.21,136.12 L133.17,136.20 L136.12,136.34 L139.06,136.54 L141.98,136.81 L144.90,137.13 L147.81,137.47 L150.71,137.84 L153.61,138.23 L156.50,138.62 L159.39,139.03 L162.27,139.44 L165.16,139.82 L168.04,140.18 L170.92,140.55 L173.81,140.91 L176.69,141.27 L179.58,141.63 L182.46,141.98 L185.35,142.32 L188.24,142.66 L191.13,142.99 L194.03,143.31 L196.93,143.62 L199.82,143.92 L202.73,144.21 L205.63,144.49 L208.54,144.76 L211.45,145.03 L214.36,145.28 L217.27,145.52 L220.19,145.74 L223.11,145.96 L226.03,146.17 L228.95,146.37 L231.88,146.55 L234.81,146.73 L237.74,146.89 L240.67,147.05 L243.61,147.19 L246.54,147.33 L249.48,147.45 L252.42,147.57 L255.37,147.67 L258.31,147.77 L261.26,147.85 L264.21,147.93 L267.16,147.99 L270.11,148.05 L273.06,148.10 L276.02,148.14 L278.97,148.17 L281.93,148.20 L284.89,148.21" stroke="#a600ff"/>
<path d="M49.86,11.26 L49.89,12.45 L49.91,13.64 L49.93,14.84 L49.95,16.03 L49.97,17.23 L49.99,18.42 L50.01,19.61 L50.03,20.81 L50.05,22.00 L50.08,23.20 L50.10,24.39 L50.12,25.58 L50.14,26.78 L50.16,27.97 L50.19,29.16 L50.21,30.36 L50.23,31.55 L50.25,32.74 L50.28,33.94 L50.30,35.13 L50.32,36.32 L50.35,37.52 L50.37,38.71 L50.39,39.90 L50.42,41.10 L50.44,42.29 L50.46,43.48 L50.49,44.68 L50.51,45.87 L50.54,47.06 L50.56,48.26 L50.59,49.45 L50.61,50.64 L50.63,51.83 L50.66,53.03 L50.68,54.22 L50.71,55.41 L50.74,56.60 L50.76,57.80 L50.79,58.99 L50.81,60.18 L50.84,61.37 L50.87,62.57 L50.89,63.76 L50.92,64.95 L50.95,66.14 L50.97,67.34 L51.00,68.53 L51.03,69.72 L51.05,70.91 L51.08,72.10 L51.11,73.30 L51.14,74.49 L51.17,75.68 L51.19,76.87 L51.22,78.06 L51.25,79.25 L51.28,80.45 L51.31,81.64 L51.34,82.83 L51.37,84.02 L51.40,85.21 L51.43,86.40 L51.46,87.59 L51.49,88.78 L51.52,89.98 L51.55,91.17 L51.58,92.36 L51.61,93.55 L51.65,94.74 L51.68,95.93 L51.71,97.12 L51.74,98.31 L51.78,99.50 L51.81,100.69 L51.84,101.88 L51.88,103.07 L51.91,104.26 L51.94,105.45 L51.98,106.64 L52.01,107.83 L52.05,109.02 L52.08,110.21 L52.12,111.40 L52.15,112.59 L52.19,113.78 L52.23,114.97 L52.26,116.16 L52.30,117.35 L52.34,118.53 L52.38,119.72 L52.41,120.91 L52.45,122.10 L52.49,123.29 L52.53,124.48 L52.57,125.66 L52.61,126.85 L52.65,128.04 L52.69,129.23 L52.74,130.42 L52.78,131.60 L52.82,132.79 L52.86,133.98 L52.91,135.16 L52.95,136.35 L52.99,137.54 L53.04,138.72 L53.08,139.91 L53.13,141.10 L53.18,142.28 L53.22,143.47 L53.27,144.65 L53.32,145.84 L53.37,147.02 L53.42,148.21 L53.46,149.39 L53.52,150.58 L53.57,151.76 L53.62,152.95 L53.67,154.13 L53.72,155.31 L53.78,156.50 L53.83,157.68 L53.89,158.86 L53.94,160.04 L54.00,161.23 L54.06,162.41 L54.12,163.59 L54.18,164.77 L54.24,165.95 L54.30,167.13 L54.36,168.31 L54.43,169.49 L54.49,170.67 L54.56,171.85 L54.62,173.03 L54.69,174.20 L54.76,175.38 L54.83,176.56 L54.91,177.73 L54.98,178.91 L55.05,180.08" stroke="#df00ff" stroke-width="1.3"/>
<path d="M55.05,180.08 L55.13,181.26 L55.21,182.43 L55.29,183.61 L55.37,184.78 L55.46,185.95 L55.54,187.12 L55.63,188.29 L55.72,189.46 L55.81,190.62 L55.91,191.79 L56.01,192.95 L56.05,193.39 L56.08,193.83 L56.12,194.27 L56.16,194.71 L56.20,195.15 L56.24,195.59 L56.28,196.03 L56.32,196.47 L56.37,196.91 L56.41,197.35 L56.45,197.79 L56.49,198.23 L56.54,198.66 L56.58,199.10 L56.63,199.54 L56.67,199.98 L56.72,200.41 L56.77,200.85 L56.81,201.28 L56.86,201.72 L56.91,202.16 L56.96,202.59 L57.01,203.03 L57.06,203.46 L57.12,203.89 L57.17,204.33 L57.22,204.76 L57.28,205.19 L57.33,205.62 L57.39,206.05 L57.45,206.48 L57.51,206.91 L57.57,207.34 L57.63,207.77 L57.70,208.20 L57.76,208.62 L57.83,209.05 L57.90,209.47 L57.97,209.89 L58.04,210.32 L58.11,210.74 L58.19,211.15 L58.26,211.57 L58.34,211.99 L58.42,212.40 L58.51,212.81 L58.60,213.22 L58.69,213.62 L58.78,214.03 L58.88,214.43 L58.98,214.82 L59.09,215.21 L59.20,215.60 L59.31,215.98 L59.43,216.36 L59.56,216.73 L59.70,217.09 L59.85,217.44 L60.00,217.78 L60.17,218.12 L60.36,218.44 L60.57,218.74 L60.80,219.02 L61.06,219.27 L61.37,219.46 L61.73,219.57 L62.16,219.55 L62.61,219.37 L63.02,219.06 L63.38,218.69 L63.71,218.29 L64.00,217.86 L64.26,217.42 L64.51,216.96 L64.75,216.50 L64.98,216.03 L65.19,215.56 L65.40,215.08 L65.60,214.60 L65.80,214.12 L65.99,213.64 L66.17,213.15 L66.35,212.67 L66.53,212.18 L66.71,211.69 L66.88,211.20 L67.05,210.71 L67.22,210.22 L67.39,209.73 L67.55,209.24 L67.71,208.75 L67.87,208.26 L68.03,207.78 L68.19,207.30 L68.35,206.82 L68.50,206.34 L68.66,205.87 L68.81,205.39 L68.96,204.93 L69.12,204.46 L69.27,204.01 L69.42,203.55 L69.57,203.10 L69.72,202.67 L69.87,202.26 L70.02,201.87 L70.17,201.50 L70.32,201.13 L70.47,200.78 L70.61,200.45 L70.76,200.11 L70.91,199.79 L71.06,199.47 L71.20,199.15 L71.35,198.83 L71.50,198.52 L71.65,198.19 L71.80,197.87 L71.94,197.53 L72.09,197.19 L72.24,196.84 L72.39,196.48 L72.54,196.10 L72.68,195.71 L72.83,195.29 L72.98,194.86 L73.13,194.42 L73.28,193.98 L73.43,193.53 L73.58,193.09 L73.73,192.65 L73.89,192.20 L74.04,191.76 L74.19,191.32 L74.34,190.87 L74.50,190.43 L74.65,189.99 L75.06,188.81 L75.48,187.64 L75.90,186.53 L76.32,185.55 L76.75,184.65 L77.19,183.80 L77.63,182.95 L78.08,182.06 L78.54,181.08 L79.00,179.97 L79.47,178.78 L79.95,177.60 L80.44,176.41 L80.94,175.23 L81.45,174.05 L81.96,172.88 L82.49,171.71 L83.04,170.54 L83.59,169.37 L84.16,168.19 L84.74,167.00 L85.33,165.82 L85.94,164.64 L86.57,163.48 L87.22,162.33 L87.88,161.20 L88.56,160.10 L89.26,159.02 L89.98,157.95 L90.72,156.90 L91.49,155.86 L92.27,154.84 L93.09,153.84 L93.92,152.86 L94.78,151.90 L95.67,150.97 L96.58,150.05 L97.52,149.17 L98.49,148.32 L99.48,147.50 L100.49,146.71 L101.53,145.97 L102.59,145.26 L103.67,144.59 L104.78,143.97 L105.89,143.38 L107.03,142.84 L108.18,142.34 L109.34,141.88 L110.51,141.47 L111.69,141.09 L112.88,140.74 L114.07,140.41 L115.26,140.11 L118.26,139.46 L121.26,139.02 L124.25,138.75 L127.24,138.61 L130.21,138.61 L133.17,138.76 L136.12,138.99 L139.06,139.27 L141.98,139.61 L144.90,140.01 L147.81,140.43 L150.71,140.88 L153.61,141.34 L156.50,141.81 L159.39,142.30 L162.27,142.78 L165.16,143.24 L168.04,143.68 L170.92,144.12 L173.81,144.56 L176.69,145.00 L179.58,145.43 L182.46,145.86 L185.35,146.28 L188.24,146.70 L191.13,147.10 L194.03,147.50 L196.93,147.89 L199.82,148.27 L202.73,148.64 L205.63,149.00 L208.54,149.35 L211.45,149.68 L214.36,150.01 L217.27,150.33 L220.19,150.64 L223.11,150.93 L226.03,151.22 L228.95,151.49 L231.88,151.76 L234.81,152.01 L237.74,152.26 L240.67,152.49 L243.61,152.71 L246.54,152.92 L249.48,153.13 L252.42,153.32 L255.37,153.50 L258.31,153.68 L261.26,153.84 L264.21,154.00 L267.16,154.14 L270.11,154.28 L273.06,154.41 L276.02,154.53 L278.97,154.64 L281.93,154.74 L284.89,154.83" stroke="#df00ff"/>
<path d="M49.86,11.60 L49.89,12.79 L49.91,13.98 L49.93,15.18 L49.95,16.37 L49.97,17.57 L49.99,18.76 L50.01,19.96 L50.03,21.15 L50.05,22.35 L50.08,23.54 L50.10,24.73 L50.12,25.93 L50.14,27.12 L50.16,28.32 L50.19,29.51 L50.21,30.71 L50.23,31.90 L50.25,33.09 L50.28,34.29 L50.30,35.48 L50.32,36.68 L50.35,37.87 L50.37,39.06 L50.39,40.26 L50.42,41.45 L50.44,42.64 L50.46,43.84 L50.49,45.03 L50.51,46.23 L50.54,47.42 L50.56,48.61 L50.59,49.81 L50.61,51.00 L50.63,52.19 L50.66,53.39 L50.68,54.58 L50.71,55.77 L50.74,56.97 L50.76,58.16 L50.79,59.35 L50.81,60.55 L50.84,61.74 L50.87,62.93 L50.89,64.13 L50.92,65.32 L50.95,66.51 L50.97,67.70 L51.00,68.90 L51.03,70.09 L51.05,71.28 L51.08,72.48 L51.11,73.67 L51.14,74.86 L51.17,76.05 L51.19,77.25 L51.22,78.44 L51.25,79.63 L51.28,80.82 L51.31,82.01 L51.34,83.21 L51.37,84.40 L51.40,85.59 L51.43,86.78 L51.46,87.98 L51.49,89.17 L51.52,90.36 L51.55,91.55 L51.58,92.74 L51.61,93.93 L51.65,95.13 L51.68,96.32 L51.71,97.51 L51.74,98.70 L51.78,99.89 L51.81,101.08 L51.84,102.27 L51.88,103.46 L51.91,104.65 L51.94,105.85 L51.98,107.04 L52.01,108.23 L52.05,109.42 L52.08,110.61 L52.12,111.80 L52.15,112.99 L52.19,114.18 L52.23,115.37 L52.26,116.56 L52.30,117.75 L52.34,118.94 L52.38,120.13 L52.41,121.32 L52.45,122.51 L52.49,123.70 L52.53,124.89 L52.57,126.08 L52.61,127.26 L52.65,128.45 L52.69,129.64 L52.74,130.83 L52.78,132.02 L52.82,133.21 L52.86,134.40 L52.91,135.58 L52.95,136.77 L52.99,137.96 L53.04,139.15 L53.08,140.33 L53.13,141.52 L53.18,142.71 L53.22,143.90 L53.27,145.08 L53.32,146.27 L53.37,147.46 L53.42,148.64 L53.46,149.83 L53.52,151.01 L53.57,152.20 L53.62,153.38 L53.67,154.57 L53.72,155.75 L53.78,156.94 L53.83,158.12 L53.89,159.31 L53.94,160.49 L54.00,161.67 L54.06,162.86 L54.12,164.04 L54.18,165.22 L54.24,166.41 L54.30,167.59 L54.36,168.77 L54.43,169.95 L54.49,171.13 L54.56,172.31 L54.62,173.49 L54.69,174.67 L54.76,175.85 L54.83,177.03 L54.91,178.21 L54.98,179.39 L55.05,180.56" stroke="#ff00e6" stroke-width="1.3"/>
<path d="M55.05,180.56 L55.13,181.74 L55.21,182.91 L55.29,184.09 L55.37,185.26 L55.46,186.44 L55.54,187.61 L55.63,188.78 L55.72,189.95 L55.81,191.12 L55.91,192.29 L56.01,193.46 L56.05,193.90 L56.08,194.34 L56.12,194.78 L56.16,195.22 L56.20,195.66 L56.24,196.10 L56.28,196.54 L56.32,196.98 L56.37,197.42 L56.41,197.86 L56.45,198.30 L56.49,198.74 L56.54,199.18 L56.58,199.62 L56.63,200.06 L56.67,200.50 L56.72,200.94 L56.77,201.38 L56.81,201.81 L56.86,202.25 L56.91,202.69 L56.96,203.12 L57.01,203.56 L57.06,204.00 L57.12,204.43 L57.17,204.87 L57.22,205.30 L57.28,205.73 L57.33,206.17 L57.39,206.60 L57.45,207.03 L57.51,207.46 L57.57,207.89 L57.63,208.32 L57.70,208.75 L57.76,209.18 L57.83,209.61 L57.90,210.04 L57.97,210.46 L58.04,210.89 L58.11,211.31 L58.19,211.73 L58.26,212.15 L58.34,212.57 L58.42,212.98 L58.51,213.40 L58.60,213.81 L58.69,214.22 L58.78,214.63 L58.88,215.03 L58.98,215.43 L59.09,215.82 L59.20,216.22 L59.31,216.60 L59.43,216.98 L59.56,217.36 L59.70,217.73 L59.85,218.09 L60.00,218.44 L60.17,218.77 L60.36,219.10 L60.57,219.41 L60.80,219.70 L61.06,219.96 L61.37,220.16 L61.73,220.29 L62.16,220.28 L62.61,220.10 L63.02,219.81 L63.38,219.44 L63.71,219.04 L64.00,218.61 L64.26,218.17 L64.51,217.72 L64.75,217.26 L64.98,216.79 L65.19,216.32 L65.40,215.85 L65.60,215.37 L65.80,214.89 L65.99,214.41 L66.17,213.94 L66.35,213.45 L66.53,212.97 L66.71,212.48 L66.88,212.00 L67.05,211.51 L67.22,211.02 L67.39,210.54 L67.55,210.05 L67.71,209.57 L67.87,209.08 L68.03,208.60 L68.19,208.13 L68.35,207.65 L68.50,207.18 L68.66,206.71 L68.81,206.24 L68.96,205.78 L69.12,205.32 L69.27,204.86 L69.42,204.41 L69.57,203.97 L69.72,203.54 L69.87,203.14 L70.02,202.75 L70.17,202.38 L70.32,202.02 L70.47,201.67 L70.61,201.34 L70.76,201.01 L70.91,200.69 L71.06,200.37 L71.20,200.06 L71.35,199.75 L71.50,199.43 L71.65,199.11 L71.80,198.79 L71.94,198.46 L72.09,198.13 L72.24,197.78 L72.39,197.42 L72.54,197.04 L72.68,196.65 L72.83,196.25 L72.98,195.82 L73.13,195.38 L73.28,194.94 L73.43,194.50 L73.58,194.06 L73.73,193.62 L73.89,193.18 L74.04,192.74 L74.19,192.30 L74.34,191.87 L74.50,191.43 L74.65,190.99 L75.06,189.82 L75.48,188.66 L75.90,187.56 L76.32,186.59 L76.75,185.71 L77.19,184.87 L77.63,184.03 L78.08,183.15 L78.54,182.19 L79.00,181.09 L79.47,179.91 L79.95,178.74 L80.44,177.57 L80.94,176.40 L81.45,175.24 L81.96,174.07 L82.49,172.92 L83.04,171.76 L83.59,170.61 L84.16,169.44 L84.74,168.27 L85.33,167.11 L85.94,165.95 L86.57,164.80 L87.22,163.67 L87.88,162.56 L88.56,161.47 L89.26,160.41 L89.98,159.36 L90.72,158.33 L91.49,157.31 L92.27,156.31 L93.09,155.33 L93.92,154.38 L94.78,153.44 L95.67,152.53 L96.58,151.64 L97.52,150.78 L98.49,149.95 L99.48,149.16 L100.49,148.40 L101.53,147.69 L102.59,147.01 L103.67,146.37 L104.78,145.77 L105.89,145.22 L107.03,144.71 L108.18,144.24 L109.34,143.81 L110.51,143.43 L111.69,143.08 L112.88,142.76 L114.07,142.47 L115.26,142.20 L118.26,141.63 L121.26,141.27 L124.25,141.08 L127.24,141.02 L130.21,141.10 L133.17,141.33 L136.12,141.63 L139.06,141.99 L141.98,142.41 L144.90,142.88 L147.81,143.39 L150.71,143.91 L153.61,144.45 L156.50,145.00 L159.39,145.56 L162.27,146.12 L165.16,146.66 L168.04,147.18 L170.92,147.70 L173.81,148.22 L176.69,148.73 L179.58,149.24 L182.46,149.75 L185.35,150.24 L188.24,150.74 L191.13,151.22 L194.03,151.69 L196.93,152.16 L199.82,152.62 L202.73,153.06 L205.63,153.50 L208.54,153.93 L211.45,154.34 L214.36,154.75 L217.27,155.14 L220.19,155.53 L223.11,155.90 L226.03,156.27 L228.95,156.62 L231.88,156.96 L234.81,157.29 L237.74,157.62 L240.67,157.93 L243.61,158.23 L246.54,158.52 L249.48,158.80 L252.42,159.07 L255.37,159.34 L258.31,159.59 L261.26,159.83 L264.21,160.07 L267.16,160.29 L270.11,160.51 L273.06,160.71 L276.02,160.91 L278.97,161.10 L281.93,161.28 L284.89,161.45" stroke="#ff00e6"/>
<path d="M49.86,11.93 L49.89,13.13 L49.91,14.32 L49.93,15.52 L49.95,16.71 L49.97,17.91 L49.99,19.10 L50.01,20.30 L50.03,21.49 L50.05,22.69 L50.08,23.88 L50.10,25.08 L50.12,26.27 L50.14,27.47 L50.16,28.66 L50.19,29.86 L50.21,31.05 L50.23,32.25 L50.25,33.44 L50.28,34.64 L50.30,35.83 L50.32,37.03 L50.35,38.22 L50.37,39.42 L50.39,40.61 L50.42,41.80 L50.44,43.00 L50.46,44.19 L50.49,45.39 L50.51,46.58 L50.54,47.78 L50.56,48.97 L50.59,50.16 L50.61,51.36 L50.63,52.55 L50.66,53.75 L50.68,54.94 L50.71,56.13 L50.74,57.33 L50.76,58.52 L50.79,59.72 L50.81,60.91 L50.84,62.10 L50.87,63.30 L50.89,64.49 L50.92,65.69 L50.95,66.88 L50.97,68.07 L51.00,69.27 L51.03,70.46 L51.05,71.65 L51.08,72.85 L51.11,74.04 L51.14,75.23 L51.17,76.43 L51.19,77.62 L51.22,78.81 L51.25,80.01 L51.28,81.20 L51.31,82.39 L51.34,83.59 L51.37,84.78 L51.40,85.97 L51.43,87.16 L51.46,88.36 L51.49,89.55 L51.52,90.74 L51.55,91.93 L51.58,93.13 L51.61,94.32 L51.65,95.51 L51.68,96.70 L51.71,97.90 L51.74,99.09 L51.78,100.28 L51.81,101.47 L51.84,102.66 L51.88,103.86 L51.91,105.05 L51.94,106.24 L51.98,107.43 L52.01,108.62 L52.05,109.81 L52.08,111.01 L52.12,112.20 L52.15,113.39 L52.19,114.58 L52.23,115.77 L52.26,116.96 L52.30,118.15 L52.34,119.34 L52.38,120.53 L52.41,121.72 L52.45,122.92 L52.49,124.11 L52.53,125.30 L52.57,126.49 L52.61,127.68 L52.65,128.87 L52.69,130.06 L52.74,131.25 L52.78,132.44 L52.82,133.62 L52.86,134.81 L52.91,136.00 L52.95,137.19 L52.99,138.38 L53.04,139.57 L53.08,140.76 L53.13,141.95 L53.18,143.14 L53.22,144.32 L53.27,145.51 L53.32,146.70 L53.37,147.89 L53.42,149.08 L53.46,150.26 L53.52,151.45 L53.57,152.64 L53.62,153.82 L53.67,155.01 L53.72,156.20 L53.78,157.38 L53.83,158.57 L53.89,159.75 L53.94,160.94 L54.00,162.12 L54.06,163.31 L54.12,164.49 L54.18,165.68 L54.24,166.86 L54.30,168.05 L54.36,169.23 L54.43,170.41 L54.49,171.59 L54.56,172.78 L54.62,173.96 L54.69,175.14 L54.76,176.32 L54.83,177.50 L54.91,178.68 L54.98,179.86 L55.05,181.04" stroke="#ff00ac" stroke-width="1.3"/>
<path d="M55.05,181.04 L55.13,182.22 L55.21,183.40 L55.29,184.57 L55.37,185.75 L55.46,186.93 L55.54,188.10 L55.63,189.28 L55.72,190.45 L55.81,191.62 L55.91,192.79 L56.01,193.96 L56.05,194.40 L56.08,194.85 L56.12,195.29 L56.16,195.73 L56.20,196.17 L56.24,196.61 L56.28,197.06 L56.32,197.50 L56.37,197.94 L56.41,198.38 L56.45,198.82 L56.49,199.26 L56.54,199.70 L56.58,200.14 L56.63,200.58 L56.67,201.02 L56.72,201.46 L56.77,201.90 L56.81,202.34 L56.86,202.78 L56.91,203.22 L56.96,203.66 L57.01,204.09 L57.06,204.53 L57.12,204.97 L57.17,205.41 L57.22,205.84 L57.28,206.28 L57.33,206.71 L57.39,207.15 L57.45,207.58 L57.51,208.01 L57.57,208.45 L57.63,208.88 L57.70,209.31 L57.76,209.74 L57.83,210.17 L57.90,210.60 L57.97,211.03 L58.04,211.45 L58.11,211.88 L58.19,212.30 L58.26,212.73 L58.34,213.15 L58.42,213.57 L58.51,213.99 L58.60,214.40 L58.69,214.81 L58.78,215.22 L58.88,215.63 L58.98,216.04 L59.09,216.44 L59.20,216.83 L59.31,217.22 L59.43,217.61 L59.56,217.99 L59.70,218.37 L59.85,218.73 L60.00,219.09 L60.17,219.43 L60.36,219.77 L60.57,220.09 L60.80,220.39 L61.06,220.65 L61.37,220.87 L61.73,221.00 L62.16,221.00 L62.61,220.84 L63.02,220.55 L63.38,220.19 L63.71,219.79 L64.00,219.36 L64.26,218.93 L64.51,218.48 L64.75,218.02 L64.98,217.55 L65.19,217.09 L65.40,216.61 L65.60,216.14 L65.80,215.67 L65.99,215.19 L66.17,214.72 L66.35,214.24 L66.53,213.76 L66.71,213.28 L66.88,212.79 L67.05,212.31 L67.22,211.83 L67.39,211.35 L67.55,210.86 L67.71,210.38 L67.87,209.91 L68.03,209.43 L68.19,208.95 L68.35,208.48 L68.50,208.01 L68.66,207.55 L68.81,207.09 L68.96,206.63 L69.12,206.17 L69.27,205.72 L69.42,205.27 L69.57,204.83 L69.72,204.41 L69.87,204.01 L70.02,203.63 L70.17,203.26 L70.32,202.90 L70.47,202.56 L70.61,202.23 L70.76,201.91 L70.91,201.59 L71.06,201.28 L71.20,200.97 L71.35,200.66 L71.50,200.35 L71.65,200.04 L71.80,199.72 L71.94,199.39 L72.09,199.06 L72.24,198.72 L72.39,198.36 L72.54,197.99 L72.68,197.60 L72.83,197.20 L72.98,196.78 L73.13,196.34 L73.28,195.91 L73.43,195.47 L73.58,195.03 L73.73,194.60 L73.89,194.16 L74.04,193.73 L74.19,193.29 L74.34,192.86 L74.50,192.42 L74.65,191.99 L75.06,190.84 L75.48,189.68 L75.90,188.60 L76.32,187.64 L76.75,186.77 L77.19,185.94 L77.63,185.11 L78.08,184.24 L78.54,183.29 L79.00,182.21 L79.47,181.04 L79.95,179.88 L80.44,178.73 L80.94,177.57 L81.45,176.42 L81.96,175.27 L82.49,174.13 L83.04,172.99 L83.59,171.85 L84.16,170.70 L84.74,169.54 L85.33,168.39 L85.94,167.25 L86.57,166.12 L87.22,165.00 L87.88,163.91 L88.56,162.85 L89.26,161.80 L89.98,160.78 L90.72,159.76 L91.49,158.76 L92.27,157.79 L93.09,156.83 L93.92,155.89 L94.78,154.98 L95.67,154.09 L96.58,153.23 L97.52,152.40 L98.49,151.59 L99.48,150.83 L100.49,150.10 L101.53,149.41 L102.59,148.75 L103.67,148.15 L104.78,147.58 L105.89,147.05 L107.03,146.57 L108.18,146.14 L109.34,145.74 L110.51,145.39 L111.69,145.07 L112.88,144.79 L114.07,144.52 L115.26,144.28 L118.26,143.80 L121.26,143.52 L124.25,143.40 L127.24,143.43 L130.21,143.58 L133.17,143.89 L136.12,144.28 L139.06,144.71 L141.98,145.21 L144.90,145.76 L147.81,146.34 L150.71,146.94 L153.61,147.56 L156.50,148.19 L159.39,148.83 L162.27,149.47 L165.16,150.08 L168.04,150.68 L170.92,151.27 L173.81,151.87 L176.69,152.46 L179.58,153.05 L182.46,153.63 L185.35,154.21 L188.24,154.77 L191.13,155.33 L194.03,155.89 L196.93,156.43 L199.82,156.96 L202.73,157.49 L205.63,158.00 L208.54,158.51 L211.45,159.00 L214.36,159.48 L217.27,159.96 L220.19,160.42 L223.11,160.87 L226.03,161.31 L228.95,161.75 L231.88,162.17 L234.81,162.58 L237.74,162.98 L240.67,163.37 L243.61,163.75 L246.54,164.12 L249.48,164.48 L252.42,164.83 L255.37,165.17 L258.31,165.50 L261.26,165.82 L264.21,166.13 L267.16,166.44 L270.11,166.73 L273.06,167.02 L276.02,167.30 L278.97,167.56 L281.93,167.82 L284.89,168.08" stroke="#ff00ac"/>
<path d="M49.86,12.27 L49.89,13.47 L49.91,14.66 L49.93,15.86 L49.95,17.05 L49.97,18.25 L49.99,19.45 L50.01,20.64 L50.03,21.84 L50.05,23.03 L50.08,24.23 L50.10,25.42 L50.12,26.62 L50.14,27.81 L50.16,29.01 L50.19,30.21 L50.21,31.40 L50.23,32.60 L50.25,33.79 L50.28,34.99 L50.30,36.18 L50.32,37.38 L50.35,38.57 L50.37,39.77 L50.39,40.96 L50.42,42.16 L50.44,43.35 L50.46,44.55 L50.49,45.74 L50.51,46.94 L50.54,48.13 L50.56,49.33 L50.59,50.52 L50.61,51.72 L50.63,52.91 L50.66,54.11 L50.68,55.30 L50.71,56.50 L50.74,57.69 L50.76,58.89 L50.79,60.08 L50.81,61.27 L50.84,62.47 L50.87,63.66 L50.89,64.86 L50.92,66.05 L50.95,67.25 L50.97,68.44 L51.00,69.64 L51.03,70.83 L51.05,72.02 L51.08,73.22 L51.11,74.41 L51.14,75.61 L51.17,76.80 L51.19,77.99 L51.22,79.19 L51.25,80.38 L51.28,81.58 L51.31,82.77 L51.34,83.96 L51.37,85.16 L51.40,86.35 L51.43,87.54 L51.46,88.74 L51.49,89.93 L51.52,91.12 L51.55,92.32 L51.58,93.51 L51.61,94.70 L51.65,95.90 L51.68,97.09 L51.71,98.28 L51.74,99.48 L51.78,100.67 L51.81,101.86 L51.84,103.06 L51.88,104.25 L51.91,105.44 L51.94,106.63 L51.98,107.83 L52.01,109.02 L52.05,110.21 L52.08,111.40 L52.12,112.60 L52.15,113.79 L52.19,114.98 L52.23,116.17 L52.26,117.36 L52.30,118.56 L52.34,119.75 L52.38,120.94 L52.41,122.13 L52.45,123.32 L52.49,124.51 L52.53,125.71 L52.57,126.90 L52.61,128.09 L52.65,129.28 L52.69,130.47 L52.74,131.66 L52.78,132.85 L52.82,134.04 L52.86,135.23 L52.91,136.42 L52.95,137.61 L52.99,138.80 L53.04,139.99 L53.08,141.18 L53.13,142.37 L53.18,143.56 L53.22,144.75 L53.27,145.94 L53.32,147.13 L53.37,148.32 L53.42,149.51 L53.46,150.70 L53.52,151.89 L53.57,153.07 L53.62,154.26 L53.67,155.45 L53.72,156.64 L53.78,157.83 L53.83,159.01 L53.89,160.20 L53.94,161.39 L54.00,162.57 L54.06,163.76 L54.12,164.95 L54.18,166.13 L54.24,167.32 L54.30,168.50 L54.36,169.69 L54.43,170.87 L54.49,172.06 L54.56,173.24 L54.62,174.42 L54.69,175.61 L54.76,176.79 L54.83,177.97 L54.91,179.16 L54.98,180.34 L55.05,181.52" stroke="#ff0073" stroke-width="1.3"/>
<path d="M55.05,181.52 L55.13,182.70 L55.21,183.88 L55.29,185.06 L55.37,186.24 L55.46,187.41 L55.54,188.59 L55.63,189.77 L55.72,190.94 L55.81,192.12 L55.91,193.29 L56.01,194.47 L56.05,194.91 L56.08,195.35 L56.12,195.80 L56.16,196.24 L56.20,196.68 L56.24,197.13 L56.28,197.57 L56.32,198.01 L56.37,198.45 L56.41,198.90 L56.45,199.34 L56.49,199.78 L56.54,200.22 L56.58,200.66 L56.63,201.11 L56.67,201.55 L56.72,201.99 L56.77,202.43 L56.81,202.87 L56.86,203.31 L56.91,203.75 L56.96,204.19 L57.01,204.63 L57.06,205.07 L57.12,205.51 L57.17,205.94 L57.22,206.38 L57.28,206.82 L57.33,207.26 L57.39,207.69 L57.45,208.13 L57.51,208.57 L57.57,209.00 L57.63,209.43 L57.70,209.87 L57.76,210.30 L57.83,210.73 L57.90,211.16 L57.97,211.60 L58.04,212.02 L58.11,212.45 L58.19,212.88 L58.26,213.31 L58.34,213.73 L58.42,214.15 L58.51,214.57 L58.60,214.99 L58.69,215.41 L58.78,215.82 L58.88,216.23 L58.98,216.64 L59.09,217.05 L59.20,217.45 L59.31,217.85 L59.43,218.24 L59.56,218.62 L59.70,219.00 L59.85,219.38 L60.00,219.74 L60.17,220.09 L60.36,220.44 L60.57,220.76 L60.80,221.07 L61.06,221.35 L61.37,221.57 L61.73,221.72 L62.16,221.73 L62.61,221.57 L63.02,221.29 L63.38,220.93 L63.71,220.54 L64.00,220.12 L64.26,219.68 L64.51,219.23 L64.75,218.78 L64.98,218.32 L65.19,217.85 L65.40,217.38 L65.60,216.91 L65.80,216.44 L65.99,215.97 L66.17,215.50 L66.35,215.02 L66.53,214.55 L66.71,214.07 L66.88,213.59 L67.05,213.11 L67.22,212.63 L67.39,212.15 L67.55,211.68 L67.71,211.20 L67.87,210.73 L68.03,210.25 L68.19,209.78 L68.35,209.32 L68.50,208.85 L68.66,208.39 L68.81,207.93 L68.96,207.48 L69.12,207.02 L69.27,206.58 L69.42,206.13 L69.57,205.70 L69.72,205.28 L69.87,204.88 L70.02,204.50 L70.17,204.14 L70.32,203.79 L70.47,203.45 L70.61,203.13 L70.76,202.81 L70.91,202.49 L71.06,202.18 L71.20,201.88 L71.35,201.57 L71.50,201.27 L71.65,200.96 L71.80,200.64 L71.94,200.32 L72.09,199.99 L72.24,199.65 L72.39,199.30 L72.54,198.93 L72.68,198.55 L72.83,198.15 L72.98,197.73 L73.13,197.30 L73.28,196.87 L73.43,196.44 L73.58,196.01 L73.73,195.58 L73.89,195.14 L74.04,194.71 L74.19,194.28 L74.34,193.85 L74.50,193.42 L74.65,192.99 L75.06,191.85 L75.48,190.71 L75.90,189.63 L76.32,188.69 L76.75,187.82 L77.19,187.01 L77.63,186.19 L78.08,185.34 L78.54,184.40 L79.00,183.33 L79.47,182.18 L79.95,181.03 L80.44,179.88 L80.94,178.74 L81.45,177.60 L81.96,176.47 L82.49,175.34 L83.04,174.21 L83.59,173.09 L84.16,171.95 L84.74,170.81 L85.33,169.68 L85.94,168.55 L86.57,167.44 L87.22,166.34 L87.88,165.27 L88.56,164.22 L89.26,163.20 L89.98,162.19 L90.72,161.19 L91.49,160.22 L92.27,159.26 L93.09,158.32 L93.92,157.41 L94.78,156.52 L95.67,155.66 L96.58,154.82 L97.52,154.01 L98.49,153.23 L99.48,152.49 L100.49,151.79 L101.53,151.13 L102.59,150.50 L103.67,149.92 L104.78,149.38 L105.89,148.89 L107.03,148.44 L108.18,148.03 L109.34,147.67 L110.51,147.35 L111.69,147.06 L112.88,146.81 L114.07,146.58 L115.26,146.37 L118.26,145.96 L121.26,145.76 L124.25,145.73 L127.24,145.83 L130.21,146.07 L133.17,146.46 L136.12,146.92 L139.06,147.44 L141.98,148.01 L144.90,148.64 L147.81,149.30 L150.71,149.98 L153.61,150.67 L156.50,151.38 L159.39,152.09 L162.27,152.81 L165.16,153.50 L168.04,154.17 L170.92,154.85 L173.81,155.52 L176.69,156.19 L179.58,156.85 L182.46,157.51 L185.35,158.17 L188.24,158.81 L191.13,159.45 L194.03,160.08 L196.93,160.70 L199.82,161.31 L202.73,161.91 L205.63,162.50 L208.54,163.09 L211.45,163.66 L214.36,164.22 L217.27,164.77 L220.19,165.31 L223.11,165.84 L226.03,166.36 L228.95,166.87 L231.88,167.37 L234.81,167.86 L237.74,168.34 L240.67,168.81 L243.61,169.27 L246.54,169.71 L249.48,170.15 L252.42,170.58 L255.37,171.00 L258.31,171.41 L261.26,171.81 L264.21,172.20 L267.16,172.59 L270.11,172.96 L273.06,173.32 L276.02,173.68 L278.97,174.03 L281.93,174.37 L284.89,174.70" stroke="#ff0073"/>
<path d="M49.86,12.61 L49.89,13.81 L49.91,15.00 L49.93,16.20 L49.95,17.40 L49.97,18.59 L49.99,19.79 L50.01,20.98 L50.03,22.18 L50.05,23.38 L50.08,24.57 L50.10,25.77 L50.12,26.96 L50.14,28.16 L50.16,29.36 L50.19,30.55 L50.21,31.75 L50.23,32.94 L50.25,34.14 L50.28,35.34 L50.30,36.53 L50.32,37.73 L50.35,38.92 L50.37,40.12 L50.39,41.31 L50.42,42.51 L50.44,43.71 L50.46,44.90 L50.49,46.10 L50.51,47.29 L50.54,48.49 L50.56,49.68 L50.59,50.88 L50.61,52.08 L50.63,53.27 L50.66,54.47 L50.68,55.66 L50.71,56.86 L50.74,58.05 L50.76,59.25 L50.79,60.44 L50.81,61.64 L50.84,62.83 L50.87,64.03 L50.89,65.22 L50.92,66.42 L50.95,67.61 L50.97,68.81 L51.00,70.00 L51.03,71.20 L51.05,72.39 L51.08,73.59 L51.11,74.78 L51.14,75.98 L51.17,77.17 L51.19,78.37 L51.22,79.56 L51.25,80.76 L51.28,81.95 L51.31,83.15 L51.34,84.34 L51.37,85.54 L51.40,86.73 L51.43,87.92 L51.46,89.12 L51.49,90.31 L51.52,91.51 L51.55,92.70 L51.58,93.90 L51.61,95.09 L51.65,96.28 L51.68,97.48 L51.71,98.67 L51.74,99.87 L51.78,101.06 L51.81,102.25 L51.84,103.45 L51.88,104.64 L51.91,105.83 L51.94,107.03 L51.98,108.22 L52.01,109.42 L52.05,110.61 L52.08,111.80 L52.12,112.99 L52.15,114.19 L52.19,115.38 L52.23,116.57 L52.26,117.77 L52.30,118.96 L52.34,120.15 L52.38,121.35 L52.41,122.54 L52.45,123.73 L52.49,124.92 L52.53,126.12 L52.57,127.31 L52.61,128.50 L52.65,129.69 L52.69,130.88 L52.74,132.08 L52.78,133.27 L52.82,134.46 L52.86,135.65 L52.91,136.84 L52.95,138.03 L52.99,139.23 L53.04,140.42 L53.08,141.61 L53.13,142.80 L53.18,143.99 L53.22,145.18 L53.27,146.37 L53.32,147.56 L53.37,148.75 L53.42,149.94 L53.46,151.13 L53.52,152.32 L53.57,153.51 L53.62,154.70 L53.67,155.89 L53.72,157.08 L53.78,158.27 L53.83,159.46 L53.89,160.65 L53.94,161.83 L54.00,163.02 L54.06,164.21 L54.12,165.40 L54.18,166.59 L54.24,167.77 L54.30,168.96 L54.36,170.15 L54.43,171.33 L54.49,172.52 L54.56,173.71 L54.62,174.89 L54.69,176.08 L54.76,177.26 L54.83,178.44 L54.91,179.63 L54.98,180.81 L55.05,182.00" stroke="#ff0039" stroke-width="1.3"/>
<path d="M55.05,182.00 L55.13,183.18 L55.21,184.36 L55.29,185.54 L55.37,186.72 L55.46,187.90 L55.54,189.08 L55.63,190.26 L55.72,191.44 L55.81,192.62 L55.91,193.79 L56.01,194.97 L56.05,195.42 L56.08,195.86 L56.12,196.30 L56.16,196.75 L56.20,197.19 L56.24,197.64 L56.28,198.08 L56.32,198.52 L56.37,198.97 L56.41,199.41 L56.45,199.86 L56.49,200.30 L56.54,200.74 L56.58,201.18 L56.63,201.63 L56.67,202.07 L56.72,202.51 L56.77,202.96 L56.81,203.40 L56.86,203.84 L56.91,204.28 L56.96,204.72 L57.01,205.16 L57.06,205.60 L57.12,206.04 L57.17,206.48 L57.22,206.92 L57.28,207.36 L57.33,207.80 L57.39,208.24 L57.45,208.68 L57.51,209.12 L57.57,209.55 L57.63,209.99 L57.70,210.43 L57.76,210.86 L57.83,211.30 L57.90,211.73 L57.97,212.16 L58.04,212.59 L58.11,213.02 L58.19,213.45 L58.26,213.88 L58.34,214.31 L58.42,214.74 L58.51,215.16 L58.60,215.58 L58.69,216.00 L58.78,216.42 L58.88,216.84 L58.98,217.25 L59.09,217.66 L59.20,218.07 L59.31,218.47 L59.43,218.86 L59.56,219.26 L59.70,219.64 L59.85,220.02 L60.00,220.39 L60.17,220.75 L60.36,221.10 L60.57,221.44 L60.80,221.76 L61.06,222.04 L61.37,222.28 L61.73,222.43 L62.16,222.46 L62.61,222.31 L63.02,222.03 L63.38,221.68 L63.71,221.28 L64.00,220.87 L64.26,220.44 L64.51,219.99 L64.75,219.54 L64.98,219.08 L65.19,218.62 L65.40,218.15 L65.60,217.68 L65.80,217.21 L65.99,216.75 L66.17,216.28 L66.35,215.81 L66.53,215.34 L66.71,214.86 L66.88,214.39 L67.05,213.91 L67.22,213.44 L67.39,212.96 L67.55,212.49 L67.71,212.02 L67.87,211.55 L68.03,211.08 L68.19,210.61 L68.35,210.15 L68.50,209.69 L68.66,209.23 L68.81,208.78 L68.96,208.33 L69.12,207.88 L69.27,207.44 L69.42,207.00 L69.57,206.56 L69.72,206.15 L69.87,205.76 L70.02,205.38 L70.17,205.02 L70.32,204.68 L70.47,204.34 L70.61,204.02 L70.76,203.70 L70.91,203.39 L71.06,203.09 L71.20,202.79 L71.35,202.49 L71.50,202.18 L71.65,201.88 L71.80,201.57 L71.94,201.25 L72.09,200.92 L72.24,200.59 L72.39,200.24 L72.54,199.88 L72.68,199.50 L72.83,199.11 L72.98,198.69 L73.13,198.26 L73.28,197.83 L73.43,197.41 L73.58,196.98 L73.73,196.55 L73.89,196.12 L74.04,195.70 L74.19,195.27 L74.34,194.84 L74.50,194.42 L74.65,193.99 L75.06,192.86 L75.48,191.73 L75.90,190.67 L76.32,189.73 L76.75,188.88 L77.19,188.07 L77.63,187.27 L78.08,186.43 L78.54,185.50 L79.00,184.44 L79.47,183.31 L79.95,182.17 L80.44,181.04 L80.94,179.91 L81.45,178.78 L81.96,177.66 L82.49,176.55 L83.04,175.44 L83.59,174.33 L84.16,173.21 L84.74,172.09 L85.33,170.97 L85.94,169.86 L86.57,168.76 L87.22,167.68 L87.88,166.62 L88.56,165.59 L89.26,164.59 L89.98,163.60 L90.72,162.62 L91.49,161.67 L92.27,160.73 L93.09,159.82 L93.92,158.93 L94.78,158.06 L95.67,157.22 L96.58,156.40 L97.52,155.62 L98.49,154.87 L99.48,154.16 L100.49,153.48 L101.53,152.85 L102.59,152.25 L103.67,151.70 L104.78,151.19 L105.89,150.73 L107.03,150.31 L108.18,149.93 L109.34,149.60 L110.51,149.31 L111.69,149.05 L112.88,148.83 L114.07,148.63 L115.26,148.46 L118.26,148.13 L121.26,148.01 L124.25,148.06 L127.24,148.24 L130.21,148.56 L133.17,149.03 L136.12,149.57 L139.06,150.16 L141.98,150.81 L144.90,151.52 L147.81,152.26 L150.71,153.01 L153.61,153.79 L156.50,154.57 L159.39,155.36 L162.27,156.15 L165.16,156.92 L168.04,157.67 L170.92,158.42 L173.81,159.17 L176.69,159.92 L179.58,160.66 L182.46,161.40 L185.35,162.13 L188.24,162.85 L191.13,163.56 L194.03,164.27 L196.93,164.97 L199.82,165.66 L202.73,166.34 L205.63,167.01 L208.54,167.67 L211.45,168.32 L214.36,168.96 L217.27,169.59 L220.19,170.20 L223.11,170.81 L226.03,171.41 L228.95,172.00 L231.88,172.58 L234.81,173.14 L237.74,173.70 L240.67,174.25 L243.61,174.78 L246.54,175.31 L249.48,175.83 L252.42,176.34 L255.37,176.83 L258.31,177.32 L261.26,177.80 L264.21,178.27 L267.16,178.73 L270.11,179.19 L273.06,179.63 L276.02,180.06 L278.97,180.49 L281.93,180.91 L284.89,181.32" stroke="#ff0039"/>
<path d="M49.86,12.95 L49.89,14.15 L49.91,15.34 L49.93,16.54 L49.95,17.74 L49.97,18.93 L49.99,20.13 L50.01,21.33 L50.03,22.52 L50.05,23.72 L50.08,24.92 L50.10,26.11 L50.12,27.31 L50.14,28.51 L50.16,29.70 L50.19,30.90 L50.21,32.10 L50.23,33.29 L50.25,34.49 L50.28,35.69 L50.30,36.88 L50.32,38.08 L50.35,39.27 L50.37,40.47 L50.39,41.67 L50.42,42.86 L50.44,44.06 L50.46,45.26 L50.49,46.45 L50.51,47.65 L50.54,48.85 L50.56,50.04 L50.59,51.24 L50.61,52.43 L50.63,53.63 L50.66,54.83 L50.68,56.02 L50.71,57.22 L50.74,58.41 L50.76,59.61 L50.79,60.81 L50.81,62.00 L50.84,63.20 L50.87,64.39 L50.89,65.59 L50.92,66.79 L50.95,67.98 L50.97,69.18 L51.00,70.37 L51.03,71.57 L51.05,72.76 L51.08,73.96 L51.11,75.16 L51.14,76.35 L51.17,77.55 L51.19,78.74 L51.22,79.94 L51.25,81.13 L51.28,82.33 L51.31,83.52 L51.34,84.72 L51.37,85.91 L51.40,87.11 L51.43,88.30 L51.46,89.50 L51.49,90.70 L51.52,91.89 L51.55,93.09 L51.58,94.28 L51.61,95.48 L51.65,96.67 L51.68,97.86 L51.71,99.06 L51.74,100.25 L51.78,101.45 L51.81,102.64 L51.84,103.84 L51.88,105.03 L51.91,106.23 L51.94,107.42 L51.98,108.62 L52.01,109.81 L52.05,111.01 L52.08,112.20 L52.12,113.39 L52.15,114.59 L52.19,115.78 L52.23,116.98 L52.26,118.17 L52.30,119.36 L52.34,120.56 L52.38,121.75 L52.41,122.95 L52.45,124.14 L52.49,125.33 L52.53,126.53 L52.57,127.72 L52.61,128.91 L52.65,130.11 L52.69,131.30 L52.74,132.49 L52.78,133.68 L52.82,134.88 L52.86,136.07 L52.91,137.26 L52.95,138.46 L52.99,139.65 L53.04,140.84 L53.08,142.03 L53.13,143.23 L53.18,144.42 L53.22,145.61 L53.27,146.80 L53.32,147.99 L53.37,149.18 L53.42,150.38 L53.46,151.57 L53.52,152.76 L53.57,153.95 L53.62,155.14 L53.67,156.33 L53.72,157.52 L53.78,158.71 L53.83,159.90 L53.89,161.09 L53.94,162.28 L54.00,163.47 L54.06,164.66 L54.12,165.85 L54.18,167.04 L54.24,168.23 L54.30,169.42 L54.36,170.61 L54.43,171.79 L54.49,172.98 L54.56,174.17 L54.62,175.36 L54.69,176.54 L54.76,177.73 L54.83,178.92 L54.91,180.10 L54.98,181.29 L55.05,182.47 L55.13,183.66 L55.21,184.84 L55.29,186.03 L55.37,187.21 L55.46,188.39 L55.54,189.57 L55.63,190.76 L55.72,191.94 L55.81,193.12 L55.91,194.30 L56.01,195.47 L56.05,195.92 L56.08,196.37 L56.12,196.81 L56.16,197.26 L56.20,197.70 L56.24,198.15 L56.28,198.59 L56.32,199.04 L56.37,199.48 L56.41,199.93 L56.45,200.37 L56.49,200.82 L56.54,201.26 L56.58,201.71 L56.63,202.15 L56.67,202.59 L56.72,203.04 L56.77,203.48 L56.81,203.93 L56.86,204.37 L56.91,204.81 L56.96,205.25 L57.01,205.70 L57.06,206.14 L57.12,206.58 L57.17,207.02 L57.22,207.46 L57.28,207.91 L57.33,208.35 L57.39,208.79 L57.45,209.23 L57.51,209.67 L57.57,210.11 L57.63,210.54 L57.70,210.98 L57.76,211.42 L57.83,211.86 L57.90,212.29 L57.97,212.73 L58.04,213.16 L58.11,213.60 L58.19,214.03 L58.26,214.46 L58.34,214.89 L58.42,215.32 L58.51,215.75 L58.60,216.17 L58.69,216.60 L58.78,217.02 L58.88,217.44 L58.98,217.86 L59.09,218.27 L59.20,218.68 L59.31,219.09 L59.43,219.49 L59.56,219.89 L59.70,220.28 L59.85,220.67 L60.00,221.04 L60.17,221.41 L60.36,221.77 L60.57,222.12 L60.80,222.44 L61.06,222.74 L61.37,222.98 L61.73,223.15 L62.16,223.18 L62.61,223.04 L63.02,222.77 L63.38,222.42 L63.71,222.03 L64.00,221.62 L64.26,221.19 L64.51,220.75 L64.75,220.30 L64.98,219.84 L65.19,219.38 L65.40,218.92 L65.60,218.45 L65.80,217.99 L65.99,217.53 L66.17,217.06 L66.35,216.60 L66.53,216.13 L66.71,215.66 L66.88,215.19 L67.05,214.71 L67.22,214.24 L67.39,213.77 L67.55,213.30 L67.71,212.83 L67.87,212.37 L68.03,211.90 L68.19,211.44 L68.35,210.98 L68.50,210.53 L68.66,210.07 L68.81,209.62 L68.96,209.17 L69.12,208.73 L69.27,208.29 L69.42,207.86 L69.57,207.43 L69.72,207.02 L69.87,206.63 L70.02,206.26 L70.17,205.90 L70.32,205.56 L70.47,205.23 L70.61,204.91 L70.76,204.60 L70.91,204.29 L71.06,203.99 L71.20,203.70 L71.35,203.40 L71.50,203.10 L71.65,202.80 L71.80,202.49 L71.94,202.18 L72.09,201.86 L72.24,201.53 L72.39,201.18 L72.54,200.82 L72.68,200.45 L72.83,200.06 L72.98,199.65 L73.13,199.22 L73.28,198.80 L73.43,198.38 L73.58,197.95 L73.73,197.53 L73.89,197.11 L74.04,196.68 L74.19,196.26 L74.34,195.84 L74.50,195.42 L74.65,194.99 L75.06,193.87 L75.48,192.75 L75.90,191.70 L76.32,190.78 L76.75,189.94 L77.19,189.14 L77.63,188.35 L78.08,187.52 L78.54,186.61 L79.00,185.56 L79.47,184.44 L79.95,183.31 L80.44,182.19 L80.94,181.08 L81.45,179.97 L81.96,178.86 L82.49,177.76 L83.04,176.67 L83.59,175.57 L84.16,174.46 L84.74,173.36 L85.33,172.25 L85.94,171.16 L86.57,170.08 L87.22,169.01 L87.88,167.98 L88.56,166.97 L89.26,165.98 L89.98,165.01 L90.72,164.05 L91.49,163.12 L92.27,162.20 L93.09,161.31 L93.92,160.44 L94.78,159.60 L95.67,158.78 L96.58,157.99 L97.52,157.23 L98.49,156.51 L99.48,155.82 L100.49,155.17 L101.53,154.56 L102.59,154.00 L103.67,153.48 L104.78,153.00 L105.89,152.56 L107.03,152.17 L108.18,151.83 L109.34,151.53 L110.51,151.27 L111.69,151.05 L112.88,150.86 L114.07,150.69 L115.26,150.54 L118.26,150.30 L121.26,150.26 L124.25,150.39 L127.24,150.65 L130.21,151.04 L133.17,151.59 L136.12,152.21 L139.06,152.88 L141.98,153.62 L144.90,154.40 L147.81,155.21 L150.71,156.05 L153.61,156.90 L156.50,157.76 L159.39,158.63 L162.27,159.50 L165.16,160.34 L168.04,161.17 L170.92,162.00 L173.81,162.82 L176.69,163.65 L179.58,164.47 L182.46,165.28 L185.35,166.09 L188.24,166.89 L191.13,167.68 L194.03,168.46 L196.93,169.24 L199.82,170.01 L202.73,170.76 L205.63,171.51 L208.54,172.25 L211.45,172.98 L214.36,173.69 L217.27,174.40 L220.19,175.10 L223.11,175.78 L226.03,176.46 L228.95,177.13 L231.88,177.78 L234.81,178.43 L237.74,179.06 L240.67,179.69 L243.61,180.30 L246.54,180.91 L249.48,181.50 L252.42,182.09 L255.37,182.67 L258.31,183.23 L261.26,183.79 L264.21,184.34 L267.16,184.88 L270.11,185.41 L273.06,185.93 L276.02,186.45 L278.97,186.95 L281.93,187.45 L284.89,187.94" stroke="#ff0000"/>
</g>
<path d="M37.2,21.6 V238.4 H279.2" fill="none" stroke="#959595" stroke-width="0.9"/>
<path d="M37.2,21.6 H279.2" fill="none" stroke="#a6a6a6" stroke-width="0.9"/>
<path d="M279.09999999999997,21.6 V238.4" fill="none" stroke="#c4c4c4" stroke-width="1.3"/>
<path d="M37.20,238.4 v-2.5 M45.27,238.4 v-1.4 M53.33,238.4 v-1.4 M61.40,238.4 v-1.4 M69.47,238.4 v-2.5 M77.53,238.4 v-1.4 M85.60,238.4 v-1.4 M93.67,238.4 v-1.4 M101.73,238.4 v-2.5 M109.80,238.4 v-1.4 M117.87,238.4 v-1.4 M125.93,238.4 v-1.4 M134.00,238.4 v-2.5 M142.07,238.4 v-1.4 M150.13,238.4 v-1.4 M158.20,238.4 v-1.4 M166.27,238.4 v-2.5 M174.33,238.4 v-1.4 M182.40,238.4 v-1.4 M190.47,238.4 v-1.4 M198.53,238.4 v-2.5 M206.60,238.4 v-1.4 M214.67,238.4 v-1.4 M222.73,238.4 v-1.4 M230.80,238.4 v-2.5 M238.87,238.4 v-1.4 M246.93,238.4 v-1.4 M255.00,238.4 v-1.4 M263.07,238.4 v-2.5 M271.13,238.4 v-1.4 M279.20,238.4 v-1.4 M37.2,238.40 h2.5 M37.2,227.56 h1.4 M37.2,216.72 h1.4 M37.2,205.88 h1.4 M37.2,195.04 h1.4 M37.2,184.20 h2.5 M37.2,173.36 h1.4 M37.2,162.52 h1.4 M37.2,151.68 h1.4 M37.2,140.84 h1.4 M37.2,130.00 h2.5 M37.2,119.16 h1.4 M37.2,108.32 h1.4 M37.2,97.48 h1.4 M37.2,86.64 h1.4 M37.2,75.80 h2.5 M37.2,64.96 h1.4 M37.2,54.12 h1.4 M37.2,43.28 h1.4 M37.2,32.44 h1.4 M37.2,21.60 h2.5" stroke="#606060" stroke-width="0.8" fill="none"/>
<path d="M37.20,21.6 v1.9 M45.27,21.6 v1.3 M53.33,21.6 v1.3 M61.40,21.6 v1.3 M69.47,21.6 v1.9 M77.53,21.6 v1.3 M85.60,21.6 v1.3 M93.67,21.6 v1.3 M101.73,21.6 v1.9 M109.80,21.6 v1.3 M117.87,21.6 v1.3 M125.93,21.6 v1.3 M134.00,21.6 v1.9 M142.07,21.6 v1.3 M150.13,21.6 v1.3 M158.20,21.6 v1.3 M166.27,21.6 v1.9 M174.33,21.6 v1.3 M182.40,21.6 v1.3 M190.47,21.6 v1.3 M198.53,21.6 v1.9 M206.60,21.6 v1.3 M214.67,21.6 v1.3 M222.73,21.6 v1.3 M230.80,21.6 v1.9 M238.87,21.6 v1.3 M246.93,21.6 v1.3 M255.00,21.6 v1.3 M263.07,21.6 v1.9 M271.13,21.6 v1.3 M279.20,21.6 v1.3 M279.2,238.40 h-1.9 M279.2,227.56 h-1.3 M279.2,216.72 h-1.3 M279.2,205.88 h-1.3 M279.2,195.04 h-1.3 M279.2,184.20 h-1.9 M279.2,173.36 h-1.3 M279.2,162.52 h-1.3 M279.2,151.68 h-1.3 M279.2,140.84 h-1.3 M279.2,130.00 h-1.9 M279.2,119.16 h-1.3 M279.2,108.32 h-1.3 M279.2,97.48 h-1.3 M279.2,86.64 h-1.3 M279.2,75.80 h-1.9 M279.2,64.96 h-1.3 M279.2,54.12 h-1.3 M279.2,43.28 h-1.3 M279.2,32.44 h-1.3 M279.2,21.60 h-1.9" stroke="#858585" stroke-width="0.8" fill="none"/>
<g style="filter:grayscale(1)" text-rendering="geometricPrecision">
<g font-size="9.5" font-weight="bold" fill="#000">
<text x="37.20" y="250.5" text-anchor="middle">0.0</text>
<text x="69.47" y="250.5" text-anchor="middle">0.2</text>
<text x="101.73" y="250.5" text-anchor="middle">0.4</text>
<text x="134.00" y="250.5" text-anchor="middle">0.6</text>
<text x="166.27" y="250.5" text-anchor="middle">0.8</text>
<text x="198.53" y="250.5" text-anchor="middle">1.0</text>
<text x="230.80" y="250.5" text-anchor="middle">1.2</text>
<text x="263.07" y="250.5" text-anchor="middle">1.4</text>
<text x="34.9" y="241.90" text-anchor="end">0.00</text>
<text x="34.9" y="187.70" text-anchor="end">0.05</text>
<text x="34.9" y="133.50" text-anchor="end">0.10</text>
<text x="34.9" y="79.30" text-anchor="end">0.15</text>
<text x="34.9" y="25.10" text-anchor="end">0.20</text>
</g>
<text x="0.6" y="133.35" font-size="9.3" font-weight="bold" font-style="italic">T<tspan font-size="6.7" dy="1.8">H</tspan></text>
<text x="154.8" y="267.6" font-size="9.3" font-weight="bold" font-style="italic">r</text>
<text x="157.75" y="269.95" font-size="6.4" font-weight="bold" stroke="#000" stroke-width="0.25">+</text>
<g font-size="10.9" font-weight="bold">
<text transform="translate(113.3,12.1) scale(1.18,1)" font-style="italic">α</text>
<text x="124.0" y="12.1">= 0.35,</text>
<text x="161.2" y="12.1" font-style="italic">β</text>
<text x="171.2" y="12.1">= 0.15</text>
</g>
</g>
<rect x="296.45" y="58.6" width="10.4" height="157.1" fill="url(#g)"/>
<rect x="296.45" y="58.60" width="10.4" height="2.12" fill="#ff0004"/>
<rect x="296.45" y="60.67" width="10.4" height="2.12" fill="#ff000b"/>
<rect x="296.45" y="62.73" width="10.4" height="2.12" fill="#ff0013"/>
<rect x="296.45" y="64.80" width="10.4" height="2.12" fill="#ff001a"/>
<rect x="296.45" y="66.87" width="10.4" height="2.12" fill="#ff0022"/>
<rect x="296.45" y="68.94" width="10.4" height="2.12" fill="#ff002a"/>
<rect x="296.45" y="71.00" width="10.4" height="2.12" fill="#ff0031"/>
<rect x="296.45" y="73.07" width="10.4" height="2.12" fill="#ff0039"/>
<rect x="296.45" y="75.14" width="10.4" height="2.12" fill="#ff0040"/>
<rect x="296.45" y="77.20" width="10.4" height="2.12" fill="#ff0048"/>
<rect x="296.45" y="79.27" width="10.4" height="2.12" fill="#ff004f"/>
<rect x="296.45" y="81.34" width="10.4" height="2.12" fill="#ff0057"/>
<rect x="296.45" y="83.41" width="10.4" height="2.12" fill="#ff005e"/>
<rect x="296.45" y="85.47" width="10.4" height="2.12" fill="#ff0066"/>
<rect x="296.45" y="87.54" width="10.4" height="2.12" fill="#ff006d"/>
<rect x="296.45" y="89.61" width="10.4" height="2.12" fill="#ff0075"/>
<rect x="296.45" y="91.67" width="10.4" height="2.12" fill="#ff007d"/>
<rect x="296.45" y="93.74" width="10.4" height="2.12" fill="#ff0084"/>
<rect x="296.45" y="95.81" width="10.4" height="2.12" fill="#ff008c"/>
<rect x="296.45" y="97.88" width="10.4" height="2.12" fill="#ff0093"/>
<rect x="296.45" y="99.94" width="10.4" height="2.12" fill="#ff009b"/>
<rect x="296.45" y="102.01" width="10.4" height="2.12" fill="#ff00a2"/>
<rect x="296.45" y="104.08" width="10.4" height="2.12" fill="#ff00aa"/>
<rect x="296.45" y="106.14" width="10.4" height="2.12" fill="#ff00b1"/>
<rect x="296.45" y="108.21" width="10.4" height="2.12" fill="#ff00b9"/>
<rect x="296.45" y="110.28" width="10.4" height="2.12" fill="#ff00c1"/>
<rect x="296.45" y="112.34" width="10.4" height="2.12" fill="#ff00c8"/>
<rect x="296.45" y="114.41" width="10.4" height="2.12" fill="#ff00d0"/>
<rect x="296.45" y="116.48" width="10.4" height="2.12" fill="#ff00d7"/>
<rect x="296.45" y="118.55" width="10.4" height="2.12" fill="#ff00df"/>
<rect x="296.45" y="120.61" width="10.4" height="2.12" fill="#ff00e6"/>
<rect x="296.45" y="122.68" width="10.4" height="2.12" fill="#ff00ee"/>
<rect x="296.45" y="124.75" width="10.4" height="2.12" fill="#ff00f5"/>
<rect x="296.45" y="126.81" width="10.4" height="2.12" fill="#ff00fd"/>
<rect x="296.45" y="128.88" width="10.4" height="2.12" fill="#fa00ff"/>
<rect x="296.45" y="130.95" width="10.4" height="2.12" fill="#f200ff"/>
<rect x="296.45" y="133.02" width="10.4" height="2.12" fill="#ea00ff"/>
<rect x="296.45" y="135.08" width="10.4" height="2.12" fill="#e300ff"/>
<rect x="296.45" y="137.15" width="10.4" height="2.12" fill="#db00ff"/>
<rect x="296.45" y="139.22" width="10.4" height="2.12" fill="#d400ff"/>
<rect x="296.45" y="141.28" width="10.4" height="2.12" fill="#cc00ff"/>
<rect x="296.45" y="143.35" width="10.4" height="2.12" fill="#c500ff"/>
<rect x="296.45" y="145.42" width="10.4" height="2.12" fill="#bd00ff"/>
<rect x="296.45" y="147.49" width="10.4" height="2.12" fill="#b600ff"/>
<rect x="296.45" y="149.55" width="10.4" height="2.12" fill="#ae00ff"/>
<rect x="296.45" y="151.62" width="10.4" height="2.12" fill="#a700ff"/>
<rect x="296.45" y="153.69" width="10.4" height="2.12" fill="#9f00ff"/>
<rect x="296.45" y="155.75" width="10.4" height="2.12" fill="#9700ff"/>
<rect x="296.45" y="157.82" width="10.4" height="2.12" fill="#9000ff"/>
<rect x="296.45" y="159.89" width="10.4" height="2.12" fill="#8800ff"/>
<rect x="296.45" y="161.96" width="10.4" height="2.12" fill="#8100ff"/>
<rect x="296.45" y="164.02" width="10.4" height="2.12" fill="#7900ff"/>
<rect x="296.45" y="166.09" width="10.4" height="2.12" fill="#7200ff"/>
<rect x="296.45" y="168.16" width="10.4" height="2.12" fill="#6a00ff"/>
<rect x="296.45" y="170.22" width="10.4" height="2.12" fill="#6300ff"/>
<rect x="296.45" y="172.29" width="10.4" height="2.12" fill="#5b00ff"/>
<rect x="296.45" y="174.36" width="10.4" height="2.12" fill="#5300ff"/>
<rect x="296.45" y="176.43" width="10.4" height="2.12" fill="#4c00ff"/>
<rect x="296.45" y="178.49" width="10.4" height="2.12" fill="#4400ff"/>
<rect x="296.45" y="180.56" width="10.4" height="2.12" fill="#3d00ff"/>
<rect x="296.45" y="182.63" width="10.4" height="2.12" fill="#3500ff"/>
<rect x="296.45" y="184.69" width="10.4" height="2.12" fill="#2e00ff"/>
<rect x="296.45" y="186.76" width="10.4" height="2.12" fill="#2600ff"/>
<rect x="296.45" y="188.83" width="10.4" height="2.12" fill="#1f00ff"/>
<rect x="296.45" y="190.89" width="10.4" height="2.12" fill="#1700ff"/>
<rect x="296.45" y="192.96" width="10.4" height="2.12" fill="#1000ff"/>
<rect x="296.45" y="195.03" width="10.4" height="2.12" fill="#0800ff"/>
<rect x="296.45" y="197.10" width="10.4" height="2.12" fill="#0000ff"/>
<rect x="296.45" y="199.16" width="10.4" height="2.12" fill="#0007ff"/>
<rect x="296.45" y="201.23" width="10.4" height="2.12" fill="#000fff"/>
<rect x="296.45" y="203.30" width="10.4" height="2.12" fill="#0016ff"/>
<rect x="296.45" y="205.36" width="10.4" height="2.12" fill="#001eff"/>
<rect x="296.45" y="207.43" width="10.4" height="2.12" fill="#0025ff"/>
<rect x="296.45" y="209.50" width="10.4" height="2.12" fill="#002dff"/>
<rect x="296.45" y="211.57" width="10.4" height="2.12" fill="#0034ff"/>
<rect x="296.45" y="213.63" width="10.4" height="2.12" fill="#003cff"/>
<path d="M306.84999999999997,58.60 h3.2 M306.84999999999997,64.88 h2.0 M306.84999999999997,71.17 h2.0 M306.84999999999997,77.45 h2.0 M306.84999999999997,83.74 h2.0 M306.84999999999997,90.02 h3.2 M306.84999999999997,96.30 h2.0 M306.84999999999997,102.59 h2.0 M306.84999999999997,108.87 h2.0 M306.84999999999997,115.16 h2.0 M306.84999999999997,121.44 h3.2 M306.84999999999997,127.72 h2.0 M306.84999999999997,134.01 h2.0 M306.84999999999997,140.29 h2.0 M306.84999999999997,146.58 h2.0 M306.84999999999997,152.86 h3.2 M306.84999999999997,159.14 h2.0 M306.84999999999997,165.43 h2.0 M306.84999999999997,171.71 h2.0 M306.84999999999997,178.00 h2.0 M306.84999999999997,184.28 h3.2 M306.84999999999997,190.56 h2.0 M306.84999999999997,196.85 h2.0 M306.84999999999997,203.13 h2.0 M306.84999999999997,209.42 h2.0 M306.84999999999997,215.70 h3.2" stroke="#d8d8d8" stroke-width="0.7" fill="none"/>
<g style="filter:grayscale(1)" text-rendering="geometricPrecision">
<g font-size="6.8" fill="#4d4d4d">
<text x="312.5" y="61.30">0</text>
<text x="312.5" y="92.72">−0.1</text>
<text x="312.5" y="124.14">−0.2</text>
<text x="312.5" y="155.56">−0.3</text>
<text x="312.5" y="186.98">−0.4</text>
<text x="312.5" y="218.40">−0.5</text>
</g>
<text x="310" y="48.7" font-size="10.7" text-anchor="middle" fill="#111">Λ</text>
</g>
</svg></body></html>
